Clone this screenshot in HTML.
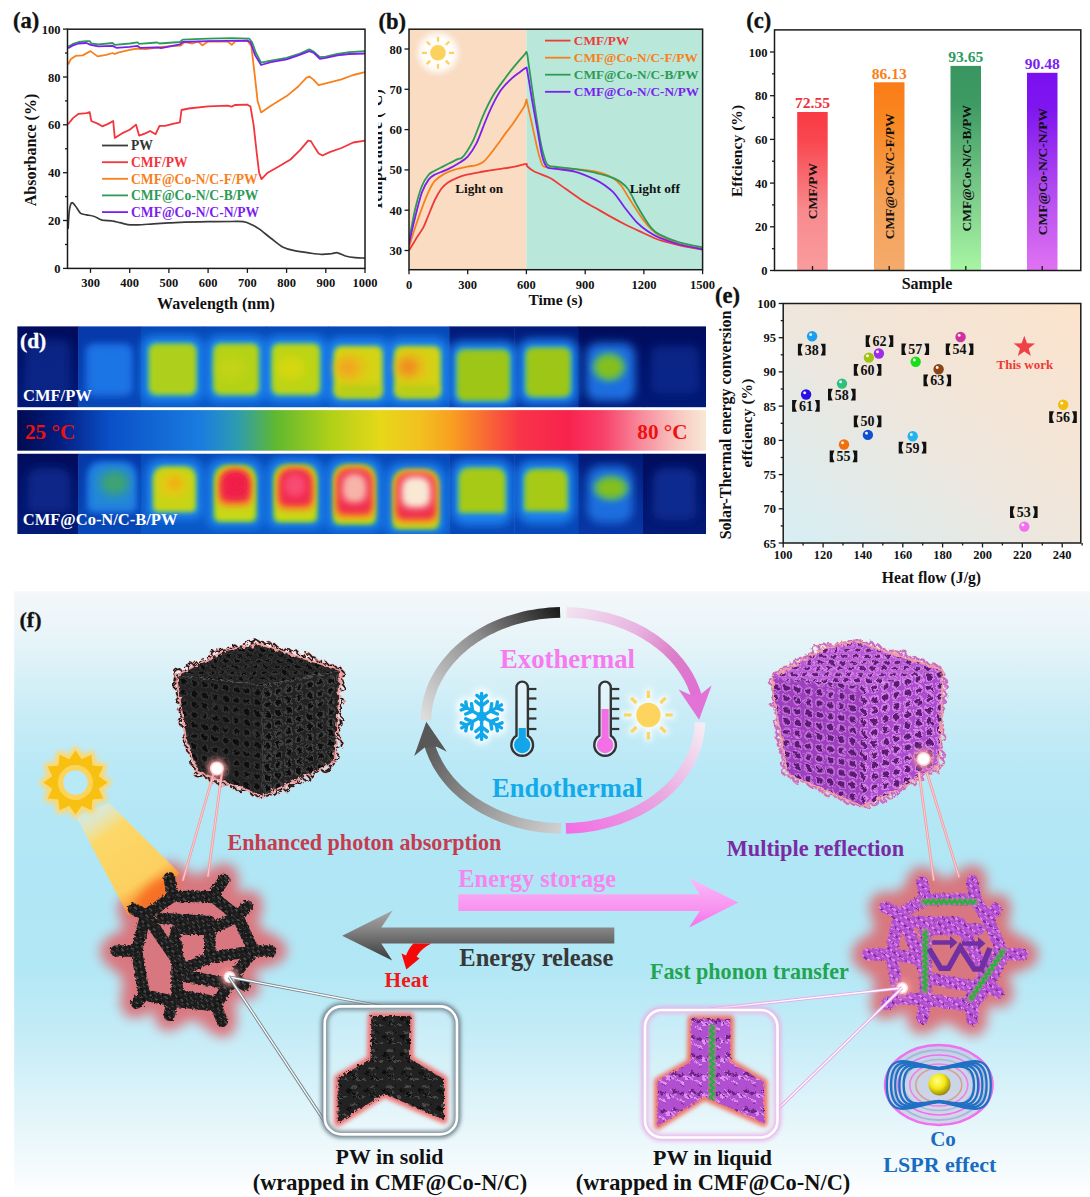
<!DOCTYPE html>
<html><head><meta charset="utf-8"><style>html,body{margin:0;padding:0;background:#fff;width:1090px;height:1197px;overflow:hidden}svg{display:block;font-family:"Liberation Serif",serif}</style></head>
<body><svg width="1090" height="1197" viewBox="0 0 1090 1197" font-family="Liberation Serif" font-weight="bold"><g id="panel_a"><path d="M68.1,228.9 C68.3,225.9 68.7,215.3 69.3,211 C69.9,206.6 70.6,203.6 71.7,202.8 C72.7,202 74.1,204.4 75.6,206.2 C77.1,207.9 78.9,211.9 80.7,213.4 C82.5,214.8 84.3,214.3 86.6,214.8 C88.9,215.3 91.8,215.6 94.4,216.5 C97,217.3 99.3,219.3 102.3,220.1 C105.2,220.8 109.1,220.3 112.1,220.8 C115,221.2 117.3,222.1 119.9,222.7 C122.5,223.3 124.8,224.2 127.8,224.6 C130.7,225 133.3,225 137.6,224.8 C141.8,224.7 148,224.2 153.2,223.9 C158.5,223.6 163.7,223.2 168.9,222.9 C174.2,222.7 178.1,222.4 184.6,222.2 C191.1,222 200.3,221.9 208.1,221.7 C216,221.6 225.8,221.5 231.7,221.5 C237.6,221.5 240.2,221.3 243.4,221.7 C246.7,222.2 248.7,223.2 251.3,224.4 C253.9,225.6 255.9,226.6 259.1,228.9 C262.4,231.2 267,235.3 270.9,238.2 C274.8,241.2 278.7,244.8 282.6,246.9 C286.6,248.9 289.8,249.7 294.4,250.7 C299,251.7 305.5,252.5 310.1,253.1 C314.7,253.7 318.3,254.2 321.9,254.3 C325.5,254.4 329.1,253.8 331.7,253.6 C334.3,253.3 335.3,252.4 337.5,252.8 C339.8,253.2 342.4,255.2 345.4,256 C348.3,256.8 351.9,257.3 355.2,257.6 C358.5,258 363.4,258 365,258.1" fill="none" stroke="#3a3a3a" stroke-width="1.7" stroke-linejoin="round"/>
<path d="M68.1,124.3 L72.9,118.1 L78.7,113.8 L86.6,113.1 L89.7,112.1 L91.3,121 L97.6,123.6 L102.3,126.3 L108.1,123.9 L113.2,121 L114.8,138 L121.9,133.4 L129.7,129.8 L136,124.6 L139.1,135.6 L145.4,133.4 L150.1,131 L155.6,134.2 L159.5,125.8 L165,125.8 L172.8,123.9 L179.9,122.4 L181.5,110 L188.5,108.5 L208.1,106.4 L227.7,105.7 L231.7,106.6 L234.8,105 L247.4,104.7 L250.5,106.6 L253.6,124.8 L256.8,153.5 L259.1,172.7 L261.5,179.1 L267.7,172.7 L278.7,166.5 L290.5,159.5 L300.3,149.9 L308.1,140.6 L310.9,141.1 L314.8,147.6 L318.7,153.5 L322.6,155.5 L329.7,152.1 L341.5,148 L353.2,142.5 L365,140.6" fill="none" stroke="#f4343c" stroke-width="1.8" stroke-linejoin="round"/>
<path d="M68.1,64.5 L70.9,59 L75.6,55.9 L82.7,55.4 L90.5,51.1 L97.6,56.4 L106.2,54.9 L112.5,53 L114.8,54 L117.9,52.6 L129.7,49.9 L137.6,48.5 L145.4,49.2 L157.2,47.5 L161.1,46.8 L168.9,46.3 L180.7,45.6 L184.6,42 L192.5,43.5 L198.3,41.5 L202.3,45.4 L208.1,41.5 L227.7,41.5 L231.7,44.9 L235.6,41.1 L247.4,40.6 L251.3,45.9 L254.4,72.2 L257.6,100.9 L261.1,112.4 L270.9,105.7 L286.6,96.1 L298.3,86.5 L306.2,77.9 L309.3,76.5 L313.2,79.4 L318.7,85.1 L325.8,83.4 L341.5,79.4 L353.2,75 L365,72.2" fill="none" stroke="#f7801c" stroke-width="1.8" stroke-linejoin="round"/>
<path d="M68.1,46.8 L72.9,43.9 L78.7,42 L86.6,41.1 L89.7,41.1 L91.3,43.5 L98.3,44.4 L108.1,43.5 L112.5,43 L114.8,44.9 L129.7,43.5 L137.6,42.3 L139.1,43.9 L157.2,42.5 L159.5,43.5 L179.9,42 L182.7,39.6 L208.1,38.7 L231.7,38.2 L249.3,38.7 L252.1,42.3 L256,53 L261.1,62.6 L270.9,60.7 L286.6,57.8 L298.3,54.2 L309.3,49.4 L314,51.8 L319.9,57.1 L325.8,56.6 L337.5,54 L349.3,52.1 L365,51.1" fill="none" stroke="#2e9a58" stroke-width="1.8" stroke-linejoin="round"/>
<path d="M68.1,48.2 L72.9,45.4 L78.7,43.5 L86.6,43 L90.5,44.9 L98.3,46.3 L112.5,45.9 L116.4,47.8 L129.7,46.8 L137.6,45.9 L139.9,47.8 L157.2,47.3 L161.1,48.2 L179.9,44.4 L182.7,42 L208.1,41.1 L247.4,40.6 L250.5,42.3 L255.2,55.4 L261.1,65 L270.9,62.1 L286.6,59.3 L298.3,55.4 L309.3,51.1 L314,53 L319.9,58.8 L325.8,57.8 L337.5,55.4 L349.3,54 L365,53.5" fill="none" stroke="#7b1ff0" stroke-width="1.8" stroke-linejoin="round"/>
<rect x="67.5" y="29.2" width="297.5" height="239.2" fill="none" stroke="#1a1a1a" stroke-width="1.5"/>
<line x1="63" y1="268.4" x2="67.5" y2="268.4" stroke="#1a1a1a" stroke-width="1.3"/>
<text x="60.5" y="272.9" font-size="12.5" fill="#111" text-anchor="end" >0</text>
<line x1="65" y1="244.5" x2="67.5" y2="244.5" stroke="#1a1a1a" stroke-width="1.3"/>
<line x1="63" y1="220.5" x2="67.5" y2="220.5" stroke="#1a1a1a" stroke-width="1.3"/>
<text x="60.5" y="225" font-size="12.5" fill="#111" text-anchor="end" >20</text>
<line x1="65" y1="196.6" x2="67.5" y2="196.6" stroke="#1a1a1a" stroke-width="1.3"/>
<line x1="63" y1="172.7" x2="67.5" y2="172.7" stroke="#1a1a1a" stroke-width="1.3"/>
<text x="60.5" y="177.2" font-size="12.5" fill="#111" text-anchor="end" >40</text>
<line x1="65" y1="148.8" x2="67.5" y2="148.8" stroke="#1a1a1a" stroke-width="1.3"/>
<line x1="63" y1="124.8" x2="67.5" y2="124.8" stroke="#1a1a1a" stroke-width="1.3"/>
<text x="60.5" y="129.3" font-size="12.5" fill="#111" text-anchor="end" >60</text>
<line x1="65" y1="100.9" x2="67.5" y2="100.9" stroke="#1a1a1a" stroke-width="1.3"/>
<line x1="63" y1="77" x2="67.5" y2="77" stroke="#1a1a1a" stroke-width="1.3"/>
<text x="60.5" y="81.5" font-size="12.5" fill="#111" text-anchor="end" >80</text>
<line x1="65" y1="53" x2="67.5" y2="53" stroke="#1a1a1a" stroke-width="1.3"/>
<line x1="63" y1="29.1" x2="67.5" y2="29.1" stroke="#1a1a1a" stroke-width="1.3"/>
<text x="60.5" y="33.6" font-size="12.5" fill="#111" text-anchor="end" >100</text>
<line x1="90.5" y1="268.4" x2="90.5" y2="272.9" stroke="#1a1a1a" stroke-width="1.3"/>
<text x="90.5" y="287" font-size="12.5" fill="#111" text-anchor="middle" >300</text>
<line x1="129.7" y1="268.4" x2="129.7" y2="272.9" stroke="#1a1a1a" stroke-width="1.3"/>
<text x="129.7" y="287" font-size="12.5" fill="#111" text-anchor="middle" >400</text>
<line x1="168.9" y1="268.4" x2="168.9" y2="272.9" stroke="#1a1a1a" stroke-width="1.3"/>
<text x="168.9" y="287" font-size="12.5" fill="#111" text-anchor="middle" >500</text>
<line x1="208.1" y1="268.4" x2="208.1" y2="272.9" stroke="#1a1a1a" stroke-width="1.3"/>
<text x="208.1" y="287" font-size="12.5" fill="#111" text-anchor="middle" >600</text>
<line x1="247.4" y1="268.4" x2="247.4" y2="272.9" stroke="#1a1a1a" stroke-width="1.3"/>
<text x="247.4" y="287" font-size="12.5" fill="#111" text-anchor="middle" >700</text>
<line x1="286.6" y1="268.4" x2="286.6" y2="272.9" stroke="#1a1a1a" stroke-width="1.3"/>
<text x="286.6" y="287" font-size="12.5" fill="#111" text-anchor="middle" >800</text>
<line x1="325.8" y1="268.4" x2="325.8" y2="272.9" stroke="#1a1a1a" stroke-width="1.3"/>
<text x="325.8" y="287" font-size="12.5" fill="#111" text-anchor="middle" >900</text>
<line x1="365" y1="268.4" x2="365" y2="272.9" stroke="#1a1a1a" stroke-width="1.3"/>
<text x="365" y="287" font-size="12.5" fill="#111" text-anchor="middle" >1000</text>
<text x="216" y="308.5" font-size="16" fill="#111" text-anchor="middle" >Wavelength (nm)</text>
<text x="0" y="0" font-size="16" fill="#111" text-anchor="middle" transform="translate(35.5,150) rotate(-90)">Absorbance (%)</text>
<text x="13" y="28.3" font-size="22.5" fill="#111" text-anchor="start" stroke="#111" stroke-width="0.35">(a)</text>
<line x1="102" y1="145.5" x2="128" y2="145.5" stroke="#3a3a3a" stroke-width="1.8"/>
<text x="131" y="150.2" font-size="13.6" fill="#333" text-anchor="start" >PW</text>
<line x1="102" y1="162.2" x2="128" y2="162.2" stroke="#f4343c" stroke-width="1.8"/>
<text x="131" y="166.8" font-size="13.6" fill="#f4343c" text-anchor="start" >CMF/PW</text>
<line x1="102" y1="178.8" x2="128" y2="178.8" stroke="#f7801c" stroke-width="1.8"/>
<text x="131" y="183.5" font-size="13.6" fill="#f7801c" text-anchor="start" >CMF@Co-N/C-F/PW</text>
<line x1="102" y1="195.4" x2="128" y2="195.4" stroke="#2e9a58" stroke-width="1.8"/>
<text x="131" y="200.1" font-size="13.6" fill="#2e9a58" text-anchor="start" >CMF@Co-N/C-B/PW</text>
<line x1="102" y1="212.1" x2="128" y2="212.1" stroke="#7b1ff0" stroke-width="1.8"/>
<text x="131" y="216.8" font-size="13.6" fill="#7b1ff0" text-anchor="start" >CMF@Co-N/C-N/PW</text></g>
<g id="panel_b"><defs><filter id="glowb" x="-50%" y="-50%" width="200%" height="200%"><feGaussianBlur stdDeviation="3"/></filter><clipPath id="clipb"><rect x="409.0" y="29.2" width="293.6" height="240.5"/></clipPath></defs>
<rect x="409.0" y="29.2" width="117.43799999999999" height="240.5" fill="#f9dcc1"/>
<rect x="526.4" y="29.2" width="176.2" height="240.5" fill="#b9e8da"/>
<g clip-path="url(#clipb)">
<circle cx="438" cy="52.8" r="20" fill="#fff" filter="url(#glowb)" opacity="0.95"/><circle cx="438" cy="52.8" r="7.8" fill="#fbd35c"/><line x1="449" y1="52.8" x2="454" y2="52.8" stroke="#fbd35c" stroke-width="2.2"/><line x1="445.8" y1="60.6" x2="449.3" y2="64.1" stroke="#fbd35c" stroke-width="2.2"/><line x1="438" y1="63.8" x2="438" y2="68.8" stroke="#fbd35c" stroke-width="2.2"/><line x1="430.2" y1="60.6" x2="426.7" y2="64.1" stroke="#fbd35c" stroke-width="2.2"/><line x1="427" y1="52.8" x2="422" y2="52.8" stroke="#fbd35c" stroke-width="2.2"/><line x1="430.2" y1="45" x2="426.7" y2="41.5" stroke="#fbd35c" stroke-width="2.2"/><line x1="438" y1="41.8" x2="438" y2="36.8" stroke="#fbd35c" stroke-width="2.2"/><line x1="445.8" y1="45" x2="449.3" y2="41.5" stroke="#fbd35c" stroke-width="2.2"/>
<path d="M409,250.5 C409.6,249.5 411.6,246.2 412.9,244.1 C414.2,241.9 416.2,238.5 417.8,236 C419.4,233.5 421.9,230.3 423.5,227.1 C425.1,224 426.9,219 428.6,215 C430.2,211 432.7,204.5 434.6,200.5 C436.5,196.6 439.4,191.5 441.3,188.8 C443.2,186.2 445.4,184.4 447.6,182.8 C449.8,181.2 453.1,179.6 456,178.4 C458.9,177.2 462.6,175.8 466.7,174.7 C470.9,173.7 478.6,172.4 483.4,171.5 C488.2,170.7 494.1,169.8 498.8,169.1 C503.5,168.4 510.6,167.5 514.7,166.7 C518.8,165.9 524.2,163.9 526,163.9 C527.9,163.8 526,165.1 527.2,166.3 C528.5,167.4 530.8,169.8 534.3,171.5 C537.7,173.3 545.4,175.4 550.1,178 C554.8,180.6 560.9,185.6 565.6,188.8 C570.3,192.1 576.8,196.9 581.2,199.7 C585.7,202.6 590.7,205.2 595.1,207.8 C599.5,210.3 605.8,214 610.6,216.6 C615.4,219.3 622.2,223 627.2,225.5 C632.2,228 639.1,231 643.9,233.2 C648.7,235.3 653.5,238.1 659.3,240 C665.2,242 676.5,244.6 683,246.1 C689.5,247.5 699.7,249.1 702.6,249.7" fill="none" stroke="#ef3a3a" stroke-width="1.8" stroke-linejoin="round"/>
<path d="M409,247.3 C409.9,244.4 412.9,234.2 414.9,228.3 C416.8,222.5 419.9,213.7 421.9,208.2 C424,202.7 426.7,195.7 428.6,191.7 C430.5,187.6 432.3,183.8 434.6,181.2 C437,178.5 441.3,175.6 444.2,173.9 C447.1,172.2 450.5,171 454,169.9 C457.5,168.8 464.4,167.4 467.7,166.7 C471.1,166 474,165.8 476.3,165.1 C478.7,164.3 481.1,163.7 483.4,161.8 C485.6,160 488.9,155.9 491.2,153 C493.6,150.1 496.9,145.4 499,142.5 C501.1,139.6 503.2,136.4 505.3,133.6 C507.4,130.8 510.4,127.2 512.7,124 C515,120.8 518.8,114.9 520.6,112.3 C522.3,109.6 523.6,108.1 524.5,106.2 C525.4,104.4 526,100.3 526.4,99.8 C526.8,99.3 526.3,99.1 527.2,103 C528.1,106.9 530.8,118.7 532.3,125.6 C533.8,132.5 536.1,143.5 537.4,148.9 C538.7,154.4 540.1,159.2 541.1,161.8 C542.1,164.5 541.6,165.6 544.1,166.7 C546.5,167.7 553,168.3 557.8,168.7 C562.5,169.1 570,168.7 575.6,169.1 C581.2,169.5 589.9,170.4 595.1,171.5 C600.4,172.7 606.8,174.7 610.6,176.8 C614.4,178.8 617.8,181.7 620.8,185.2 C623.7,188.7 626.8,194.9 630.2,200.1 C633.6,205.3 640.1,215.5 643.3,219.9 C646.5,224.3 649.3,227.2 651.7,229.5 C654.1,231.8 655.2,233 659.3,235.2 C663.4,237.4 672.6,242 679.1,244.1 C685.6,246.1 699.1,248.2 702.6,248.9" fill="none" stroke="#f7801c" stroke-width="1.8" stroke-linejoin="round"/>
<path d="M409,241.2 C409.9,236.6 412.9,218.5 414.9,210.2 C416.8,201.9 419.9,191.3 421.9,186 C424,180.7 426.7,177 428.6,174.7 C430.5,172.4 432.3,172 434.6,170.7 C437,169.4 440.9,167.6 444.2,165.9 C447.6,164.2 454.5,160.6 457.1,159.4 C459.8,158.2 460.4,159 461.8,157.8 C463.3,156.7 465,154.5 466.7,151.8 C468.5,149 471.2,145 473.6,139.7 C476,134.4 479.9,123 482.8,116.3 C485.7,109.7 489.8,101.1 493.2,95.3 C496.5,89.6 502.1,82.4 505.3,78 C508.5,73.6 511.8,69.4 514.7,65.9 C517.6,62.4 522.7,56.6 524.5,54.6 C526.3,52.6 526.2,51.1 526.8,52.6 C527.5,54.2 527.7,57.5 528.8,65.1 C529.9,72.7 532.6,92.2 534.3,103.4 C536,114.6 538.7,131.8 540.1,139.7 C541.6,147.5 542.7,152 543.9,155.8 C545,159.6 545.9,163.4 548,165.1 C550.1,166.8 553.6,166.5 557.8,167.1 C561.9,167.7 570,168.2 575.6,169.1 C581.2,169.9 589.3,171.3 595.1,172.7 C601,174.1 609.5,176.1 614.3,178.4 C619.1,180.7 624,184.2 627.2,188 C630.5,191.8 633.6,199.5 636,203.8 C638.5,208 640.9,212.6 643.3,216.2 C645.6,219.9 649.3,225.6 651.7,228.3 C654.1,231.1 655.2,232.3 659.3,234.4 C663.4,236.5 672.6,240.5 679.1,242.4 C685.6,244.4 699.1,246.6 702.6,247.3" fill="none" stroke="#2e9a58" stroke-width="1.8" stroke-linejoin="round"/>
<path d="M409,244.1 C409.9,240.2 412.9,226 414.9,218.3 C416.8,210.5 419.9,198.3 421.9,192.5 C424,186.7 426.7,182.2 428.6,179.6 C430.5,176.9 431.7,176.3 434.6,174.7 C437.6,173.2 444.3,171 448.1,169.1 C452,167.2 457.3,164.1 460.3,162.2 C463.2,160.4 465.3,159.4 467.7,156.6 C470.1,153.8 473.7,149 476.3,143.7 C479,138.4 482.9,127.3 485.3,121.5 C487.7,115.8 490,110.1 492.4,105.4 C494.7,100.7 498.1,94.2 501,90.1 C503.9,86.1 508.8,81.2 511.8,78.4 C514.7,75.6 518.4,73.1 520.6,71.6 C522.7,70 525,68.1 526,67.9 C527,67.8 526.3,65.7 527.2,70.8 C528.2,75.8 530.8,92.6 532.3,101.4 C533.8,110.2 535.9,121.4 537.4,129.6 C538.9,137.8 540.7,150.2 542.1,155.8 C543.5,161.4 544.6,165.1 547,167.1 C549.3,169.1 553.5,168.4 557.8,169.1 C562,169.8 570,170.3 575.6,171.9 C581.2,173.5 590.8,177.6 595.1,179.6 C599.5,181.6 601.9,183.2 604.7,185.2 C607.6,187.3 611.4,190 614.3,193.3 C617.3,196.5 620.9,202.6 624.3,207 C627.7,211.3 633.3,218.7 636.8,222.3 C640.4,225.9 644.4,228.9 647.8,231.2 C651.2,233.5 654.6,235.6 659.3,237.6 C664,239.6 672.6,242.7 679.1,244.5 C685.6,246.2 699.1,248.6 702.6,249.3" fill="none" stroke="#7b1ff0" stroke-width="1.8" stroke-linejoin="round"/>
</g>
<rect x="409.0" y="29.2" width="293.6" height="240.5" fill="none" stroke="#1a1a1a" stroke-width="1.5"/>
<line x1="404.5" y1="250.5" x2="409.0" y2="250.5" stroke="#1a1a1a" stroke-width="1.3"/>
<text x="402" y="255" font-size="12.5" fill="#111" text-anchor="end" >30</text>
<line x1="404.5" y1="210.2" x2="409.0" y2="210.2" stroke="#1a1a1a" stroke-width="1.3"/>
<text x="402" y="214.7" font-size="12.5" fill="#111" text-anchor="end" >40</text>
<line x1="404.5" y1="169.9" x2="409.0" y2="169.9" stroke="#1a1a1a" stroke-width="1.3"/>
<text x="402" y="174.4" font-size="12.5" fill="#111" text-anchor="end" >50</text>
<line x1="404.5" y1="129.6" x2="409.0" y2="129.6" stroke="#1a1a1a" stroke-width="1.3"/>
<text x="402" y="134.1" font-size="12.5" fill="#111" text-anchor="end" >60</text>
<line x1="404.5" y1="89.3" x2="409.0" y2="89.3" stroke="#1a1a1a" stroke-width="1.3"/>
<text x="402" y="93.8" font-size="12.5" fill="#111" text-anchor="end" >70</text>
<line x1="404.5" y1="49" x2="409.0" y2="49" stroke="#1a1a1a" stroke-width="1.3"/>
<text x="402" y="53.5" font-size="12.5" fill="#111" text-anchor="end" >80</text>
<line x1="409" y1="269.7" x2="409" y2="274.2" stroke="#1a1a1a" stroke-width="1.3"/>
<text x="409" y="288.5" font-size="12.5" fill="#111" text-anchor="middle" >0</text>
<line x1="467.7" y1="269.7" x2="467.7" y2="274.2" stroke="#1a1a1a" stroke-width="1.3"/>
<text x="467.7" y="288.5" font-size="12.5" fill="#111" text-anchor="middle" >300</text>
<line x1="526.4" y1="269.7" x2="526.4" y2="274.2" stroke="#1a1a1a" stroke-width="1.3"/>
<text x="526.4" y="288.5" font-size="12.5" fill="#111" text-anchor="middle" >600</text>
<line x1="585.2" y1="269.7" x2="585.2" y2="274.2" stroke="#1a1a1a" stroke-width="1.3"/>
<text x="585.2" y="288.5" font-size="12.5" fill="#111" text-anchor="middle" >900</text>
<line x1="643.9" y1="269.7" x2="643.9" y2="274.2" stroke="#1a1a1a" stroke-width="1.3"/>
<text x="643.9" y="288.5" font-size="12.5" fill="#111" text-anchor="middle" >1200</text>
<line x1="702.6" y1="269.7" x2="702.6" y2="274.2" stroke="#1a1a1a" stroke-width="1.3"/>
<text x="702.6" y="288.5" font-size="12.5" fill="#111" text-anchor="middle" >1500</text>
<text x="555.6" y="305" font-size="15.5" fill="#111" text-anchor="middle" >Time (s)</text>
<text x="479.2" y="192.7" font-size="13.2" fill="#111" text-anchor="middle" >Light on</text>
<text x="654.8" y="192.7" font-size="13.4" fill="#111" text-anchor="middle" >Light off</text>
<defs><clipPath id="clipbl"><rect x="378" y="0" width="30" height="300"/></clipPath></defs>
<g clip-path="url(#clipbl)"><text x="0" y="0" font-size="16" fill="#111" text-anchor="middle" transform="translate(381.5,150) rotate(-90)">Temperature (°C)</text></g>
<text x="378.5" y="28.6" font-size="22.5" fill="#111" text-anchor="start" stroke="#111" stroke-width="0.35">(b)</text>
<line x1="545" y1="40.6" x2="570.5" y2="40.6" stroke="#ef3a3a" stroke-width="1.8"/>
<text x="573.8" y="45.2" font-size="13.3" fill="#ef3a3a" text-anchor="start" >CMF/PW</text>
<line x1="545" y1="57.7" x2="570.5" y2="57.7" stroke="#f7801c" stroke-width="1.8"/>
<text x="573.8" y="62.3" font-size="13.3" fill="#f7801c" text-anchor="start" >CMF@Co-N/C-F/PW</text>
<line x1="545" y1="74.7" x2="570.5" y2="74.7" stroke="#2e9a58" stroke-width="1.8"/>
<text x="573.8" y="79.3" font-size="13.3" fill="#2e9a58" text-anchor="start" >CMF@Co-N/C-B/PW</text>
<line x1="545" y1="91.8" x2="570.5" y2="91.8" stroke="#7b1ff0" stroke-width="1.8"/>
<text x="573.8" y="96.4" font-size="13.3" fill="#7b1ff0" text-anchor="start" >CMF@Co-N/C-N/PW</text></g>
<g id="panel_c"><defs><linearGradient id="gbar0" x1="0" y1="0" x2="0" y2="1"><stop offset="0" stop-color="#f93a44"/><stop offset="0.18" stop-color="#f9474f"/><stop offset="0.62" stop-color="#f78a8e"/><stop offset="1" stop-color="#fa9c9c"/></linearGradient><linearGradient id="gbar1" x1="0" y1="0" x2="0" y2="1"><stop offset="0" stop-color="#fb7b17"/><stop offset="0.18" stop-color="#f9861f"/><stop offset="0.62" stop-color="#f5a055"/><stop offset="1" stop-color="#f4ab6c"/></linearGradient><linearGradient id="gbar2" x1="0" y1="0" x2="0" y2="1"><stop offset="0" stop-color="#3a9660"/><stop offset="0.18" stop-color="#3d9a62"/><stop offset="0.62" stop-color="#7acb88"/><stop offset="1" stop-color="#a8f6a4"/></linearGradient><linearGradient id="gbar3" x1="0" y1="0" x2="0" y2="1"><stop offset="0" stop-color="#7a10f0"/><stop offset="0.18" stop-color="#7f16f0"/><stop offset="0.62" stop-color="#b54ef0"/><stop offset="1" stop-color="#e072f2"/></linearGradient></defs>
<rect x="797.2" y="112" width="30.5" height="158.5" fill="url(#gbar0)"/>
<text x="812.5" y="108.4" font-size="15.6" fill="#f0303c" text-anchor="middle" >72.55</text>
<text x="0" y="0" font-size="13.5" fill="#111" text-anchor="middle" transform="translate(817.3,191.2) rotate(-90)">CMF/PW</text>
<line x1="812.5" y1="270.5" x2="812.5" y2="266" stroke="#1a1a1a" stroke-width="1.3"/>
<rect x="874" y="82.3" width="30.5" height="188.2" fill="url(#gbar1)"/>
<text x="889.2" y="78.7" font-size="15.6" fill="#f7801c" text-anchor="middle" >86.13</text>
<text x="0" y="0" font-size="13.5" fill="#111" text-anchor="middle" transform="translate(894,176.4) rotate(-90)">CMF@Co-N/C-F/PW</text>
<line x1="889.2" y1="270.5" x2="889.2" y2="266" stroke="#1a1a1a" stroke-width="1.3"/>
<rect x="950.5" y="65.9" width="30.5" height="204.6" fill="url(#gbar2)"/>
<text x="965.8" y="62.3" font-size="15.6" fill="#2e9a5e" text-anchor="middle" >93.65</text>
<text x="0" y="0" font-size="13.5" fill="#111" text-anchor="middle" transform="translate(970.6,168.2) rotate(-90)">CMF@Co-N/C-B/PW</text>
<line x1="965.8" y1="270.5" x2="965.8" y2="266" stroke="#1a1a1a" stroke-width="1.3"/>
<rect x="1027" y="72.8" width="30.5" height="197.7" fill="url(#gbar3)"/>
<text x="1042.2" y="69.2" font-size="15.6" fill="#7b1ff0" text-anchor="middle" >90.48</text>
<text x="0" y="0" font-size="13.5" fill="#111" text-anchor="middle" transform="translate(1047,171.7) rotate(-90)">CMF@Co-N/C-N/PW</text>
<line x1="1042.2" y1="270.5" x2="1042.2" y2="266" stroke="#1a1a1a" stroke-width="1.3"/>
<rect x="774.5" y="29.9" width="306.3" height="240.6" fill="none" stroke="#1a1a1a" stroke-width="1.5"/>
<line x1="770" y1="270.5" x2="774.5" y2="270.5" stroke="#1a1a1a" stroke-width="1.3"/>
<text x="767.5" y="275" font-size="12.5" fill="#111" text-anchor="end" >0</text>
<line x1="772" y1="248.7" x2="774.5" y2="248.7" stroke="#1a1a1a" stroke-width="1.3"/>
<line x1="770" y1="226.8" x2="774.5" y2="226.8" stroke="#1a1a1a" stroke-width="1.3"/>
<text x="767.5" y="231.3" font-size="12.5" fill="#111" text-anchor="end" >20</text>
<line x1="772" y1="204.9" x2="774.5" y2="204.9" stroke="#1a1a1a" stroke-width="1.3"/>
<line x1="770" y1="183.1" x2="774.5" y2="183.1" stroke="#1a1a1a" stroke-width="1.3"/>
<text x="767.5" y="187.6" font-size="12.5" fill="#111" text-anchor="end" >40</text>
<line x1="772" y1="161.2" x2="774.5" y2="161.2" stroke="#1a1a1a" stroke-width="1.3"/>
<line x1="770" y1="139.4" x2="774.5" y2="139.4" stroke="#1a1a1a" stroke-width="1.3"/>
<text x="767.5" y="143.9" font-size="12.5" fill="#111" text-anchor="end" >60</text>
<line x1="772" y1="117.5" x2="774.5" y2="117.5" stroke="#1a1a1a" stroke-width="1.3"/>
<line x1="770" y1="95.7" x2="774.5" y2="95.7" stroke="#1a1a1a" stroke-width="1.3"/>
<text x="767.5" y="100.2" font-size="12.5" fill="#111" text-anchor="end" >80</text>
<line x1="772" y1="73.8" x2="774.5" y2="73.8" stroke="#1a1a1a" stroke-width="1.3"/>
<line x1="770" y1="52" x2="774.5" y2="52" stroke="#1a1a1a" stroke-width="1.3"/>
<text x="767.5" y="56.5" font-size="12.5" fill="#111" text-anchor="end" >100</text>
<text x="927" y="289.4" font-size="16" fill="#111" text-anchor="middle" >Sample</text>
<text x="0" y="0" font-size="15.6" fill="#111" text-anchor="middle" transform="translate(741.5,151) rotate(-90)">Effciency (%)</text>
<text x="746.3" y="28" font-size="22.5" fill="#111" text-anchor="start" stroke="#111" stroke-width="0.35">(c)</text></g>
<g id="panel_d"><defs><filter id="bl1" x="-60%" y="-60%" width="220%" height="220%"><feGaussianBlur stdDeviation="1.2"/></filter><filter id="bl2" x="-60%" y="-60%" width="220%" height="220%"><feGaussianBlur stdDeviation="2.2"/></filter><filter id="bl3" x="-60%" y="-60%" width="220%" height="220%"><feGaussianBlur stdDeviation="3.2"/></filter><filter id="bl5" x="-60%" y="-60%" width="220%" height="220%"><feGaussianBlur stdDeviation="5"/></filter><filter id="bl7" x="-60%" y="-60%" width="220%" height="220%"><feGaussianBlur stdDeviation="7"/></filter><linearGradient id="cbar" x1="0" y1="0" x2="1" y2="0"><stop offset="0" stop-color="#000a50"/><stop offset="0.062" stop-color="#031e80"/><stop offset="0.135" stop-color="#0a50c8"/><stop offset="0.266" stop-color="#1a7ce0"/><stop offset="0.32" stop-color="#2e9cb0"/><stop offset="0.375" stop-color="#60b830"/><stop offset="0.455" stop-color="#b0d018"/><stop offset="0.527" stop-color="#e6d818"/><stop offset="0.585" stop-color="#f2c020"/><stop offset="0.63" stop-color="#f8a020"/><stop offset="0.68" stop-color="#f86a34"/><stop offset="0.73" stop-color="#f83448"/><stop offset="0.8" stop-color="#f8224e"/><stop offset="0.85" stop-color="#f84068"/><stop offset="0.91" stop-color="#f890a0"/><stop offset="0.96" stop-color="#f8c8c0"/><stop offset="1" stop-color="#f8e8d6"/></linearGradient><linearGradient id="cbg0" x1="0" y1="0" x2="0" y2="1"><stop offset="0" stop-color="#02186e"/><stop offset="1" stop-color="#062a90"/></linearGradient><linearGradient id="cbg1" x1="0" y1="0" x2="0" y2="1"><stop offset="0" stop-color="#0638a8"/><stop offset="1" stop-color="#0848b8"/></linearGradient><linearGradient id="cbg2" x1="0" y1="0" x2="0" y2="1"><stop offset="0" stop-color="#0848b8"/><stop offset="1" stop-color="#0a58c8"/></linearGradient><linearGradient id="cbg3" x1="0" y1="0" x2="0" y2="1"><stop offset="0" stop-color="#021a78"/><stop offset="1" stop-color="#0838a8"/></linearGradient><linearGradient id="cbg4" x1="0" y1="0" x2="0" y2="1"><stop offset="0" stop-color="#010c5c"/><stop offset="1" stop-color="#021a78"/></linearGradient><clipPath id="clipd1"><rect x="17.2" y="326.2" width="688.8" height="81.2"/></clipPath><clipPath id="clipd2"><rect x="17.2" y="453.5" width="688.8" height="80.5"/></clipPath></defs>
<rect x="17.2" y="326.2" width="688.8" height="207.8" fill="#ffffff"/>
<rect x="17.2" y="410.1" width="688.8" height="40.6" fill="url(#cbar)"/>
<g clip-path="url(#clipd1)">
<rect x="17.2" y="326.2" width="61.5" height="81.2" fill="url(#cbg4)"/>
<rect x="78.2" y="326.2" width="63.1" height="81.2" fill="url(#cbg1)"/>
<rect x="140.8" y="326.2" width="64.4" height="81.2" fill="url(#cbg2)"/>
<rect x="204.7" y="326.2" width="61.8" height="81.2" fill="url(#cbg2)"/>
<rect x="266" y="326.2" width="62.5" height="81.2" fill="url(#cbg2)"/>
<rect x="328" y="326.2" width="62.2" height="81.2" fill="url(#cbg2)"/>
<rect x="389.7" y="326.2" width="60.1" height="81.2" fill="url(#cbg2)"/>
<rect x="449.3" y="326.2" width="65.4" height="81.2" fill="url(#cbg3)"/>
<rect x="514.2" y="326.2" width="64.9" height="81.2" fill="url(#cbg3)"/>
<rect x="578.6" y="326.2" width="64.9" height="81.2" fill="url(#cbg4)"/>
<rect x="643" y="326.2" width="63.5" height="81.2" fill="url(#cbg4)"/>
</g>
<g clip-path="url(#clipd2)">
<rect x="17.2" y="453.5" width="61.5" height="80.5" fill="url(#cbg4)"/>
<rect x="78.2" y="453.5" width="63.1" height="80.5" fill="url(#cbg1)"/>
<rect x="140.8" y="453.5" width="64.4" height="80.5" fill="url(#cbg2)"/>
<rect x="204.7" y="453.5" width="61.8" height="80.5" fill="url(#cbg2)"/>
<rect x="266" y="453.5" width="62.5" height="80.5" fill="url(#cbg2)"/>
<rect x="328" y="453.5" width="62.2" height="80.5" fill="url(#cbg2)"/>
<rect x="389.7" y="453.5" width="60.1" height="80.5" fill="url(#cbg2)"/>
<rect x="449.3" y="453.5" width="65.4" height="80.5" fill="url(#cbg1)"/>
<rect x="514.2" y="453.5" width="64.9" height="80.5" fill="url(#cbg1)"/>
<rect x="578.6" y="453.5" width="64.9" height="80.5" fill="url(#cbg3)"/>
<rect x="643" y="453.5" width="63.5" height="80.5" fill="url(#cbg4)"/>
</g>
<g clip-path="url(#clipd1)">
<rect x="25" y="340" width="45" height="60" rx="8" ry="8" fill="#0a2a8c" filter="url(#bl5)" opacity="0.8"/>
<rect x="85" y="343" width="48" height="54" rx="8" ry="8" fill="#1660d8" filter="url(#bl3)" />
<rect x="89" y="347" width="41" height="46" rx="6" ry="6" fill="#1e74e4" filter="url(#bl3)" />
<rect x="141.7" y="336" width="61.9" height="66" rx="12" ry="12" fill="#1a82f0" filter="url(#bl5)" />
<rect x="147.7" y="342.5" width="49.9" height="53.5" rx="8" ry="8" fill="#40b0a0" filter="url(#bl2)" />
<rect x="149.7" y="344.5" width="45.9" height="49.5" rx="7" ry="7" fill="#aed01a" filter="url(#bl2)" />
<rect x="206.2" y="336" width="60.2" height="66" rx="12" ry="12" fill="#1a82f0" filter="url(#bl5)" />
<rect x="212.2" y="342.5" width="48.2" height="53.5" rx="8" ry="8" fill="#40b0a0" filter="url(#bl2)" />
<rect x="214.2" y="344.5" width="44.2" height="49.5" rx="7" ry="7" fill="#b4d216" filter="url(#bl2)" />
<ellipse cx="231.3" cy="368" rx="14" ry="12" fill="#c4d412" filter="url(#bl5)" opacity="0.9"/>
<rect x="264.6" y="336" width="62.8" height="66" rx="12" ry="12" fill="#1a82f0" filter="url(#bl5)" />
<rect x="270.6" y="342.5" width="50.8" height="53.5" rx="8" ry="8" fill="#40b0a0" filter="url(#bl2)" />
<rect x="272.6" y="344.5" width="46.8" height="49.5" rx="7" ry="7" fill="#bcd414" filter="url(#bl2)" />
<ellipse cx="291" cy="368" rx="14" ry="12" fill="#d8d810" filter="url(#bl5)" opacity="0.9"/>
<rect x="326.8" y="338" width="63.5" height="67" rx="12" ry="12" fill="#1a82f0" filter="url(#bl5)" />
<rect x="332.8" y="345" width="51.5" height="54" rx="8" ry="8" fill="#40b0a0" filter="url(#bl2)" />
<rect x="334.8" y="347" width="47.5" height="50" rx="7" ry="7" fill="#d4d412" filter="url(#bl2)" />
<rect x="335.8" y="385" width="45.5" height="12" rx="5" ry="5" fill="#b0cc18" filter="url(#bl3)" opacity="0.8"/>
<ellipse cx="351.5" cy="367.7" rx="16" ry="14" fill="#e8c014" filter="url(#bl5)" opacity="0.9"/>
<ellipse cx="347.5" cy="367.7" rx="10" ry="9" fill="#f2a422" filter="url(#bl5)" />
<rect x="387.3" y="338" width="60.7" height="67" rx="12" ry="12" fill="#1a82f0" filter="url(#bl5)" />
<rect x="393.3" y="345" width="48.7" height="54" rx="8" ry="8" fill="#40b0a0" filter="url(#bl2)" />
<rect x="395.3" y="347" width="44.7" height="50" rx="7" ry="7" fill="#d4d212" filter="url(#bl2)" />
<rect x="396.3" y="385" width="42.7" height="12" rx="5" ry="5" fill="#b0cc18" filter="url(#bl3)" opacity="0.8"/>
<ellipse cx="412" cy="366.8" rx="16" ry="14" fill="#e8c014" filter="url(#bl5)" opacity="0.9"/>
<ellipse cx="408" cy="366.8" rx="10" ry="9" fill="#f08a22" filter="url(#bl5)" />
<rect x="449.7" y="341.4" width="67.3" height="66.3" rx="12" ry="12" fill="#1a82f0" filter="url(#bl5)" />
<rect x="455.7" y="348.4" width="55.3" height="53.3" rx="8" ry="8" fill="#40b0a0" filter="url(#bl2)" />
<rect x="457.7" y="350.4" width="51.3" height="49.3" rx="7" ry="7" fill="#9ec614" filter="url(#bl2)" />
<rect x="518.6" y="339.5" width="59" height="64.5" rx="12" ry="12" fill="#1a82f0" filter="url(#bl5)" />
<rect x="524.6" y="346.5" width="47" height="51.5" rx="8" ry="8" fill="#40b0a0" filter="url(#bl2)" />
<rect x="526.6" y="348.5" width="43" height="47.5" rx="7" ry="7" fill="#9ec614" filter="url(#bl2)" />
<rect x="586" y="343" width="49" height="58" rx="12" ry="12" fill="#1a6ee0" filter="url(#bl5)" />
<ellipse cx="609" cy="367" rx="17" ry="15" fill="#40a890" filter="url(#bl3)" />
<ellipse cx="609" cy="367" rx="13" ry="11" fill="#84c01c" filter="url(#bl3)" />
<rect x="651" y="345.7" width="48" height="47.7" rx="8" ry="8" fill="#0a2a90" filter="url(#bl5)" opacity="0.8"/>
</g>
<g clip-path="url(#clipd2)">
<path d="M27.4,482 Q27.4,468 41.4,468 L56.6,468 Q70.6,468 70.6,482 L70.6,506 Q70.6,512 64.6,512 L33.4,512 Q27.4,512 27.4,506 Z" fill="#0a2888" filter="url(#bl5)"/>
<path d="M87,477 Q87,461 103,461 L121,461 Q137,461 137,477 L137,507 Q137,513 131,513 L93,513 Q87,513 87,507 Z" fill="#1a74e4" filter="url(#bl3)"/>
<path d="M91,480 Q91,466 105,466 L119,466 Q133,466 133,480 L133,502 Q133,508 127,508 L97,508 Q91,508 91,502 Z" fill="#2488d8" filter="url(#bl3)"/>
<ellipse cx="114.6" cy="483" rx="14" ry="12" fill="#3ea470" filter="url(#bl5)" />
<path d="M146,475 Q146,459 162,459 L187,459 Q203,459 203,475 L203,511 Q203,519 195,519 L154,519 Q146,519 146,511 Z" fill="#1a82f0" filter="url(#bl5)"/>
<path d="M152,478.5 Q152,465.5 165,465.5 L184,465.5 Q197,465.5 197,478.5 L197,507 Q197,513 191,513 L158,513 Q152,513 152,507 Z" fill="#44b498" filter="url(#bl2)"/>
<path d="M154,479.5 Q154,467.5 166,467.5 L183,467.5 Q195,467.5 195,479.5 L195,506 Q195,511 190,511 L159,511 Q154,511 154,506 Z" fill="#c8d414" filter="url(#bl2)"/>
<ellipse cx="173" cy="485" rx="15" ry="12" fill="#e6c812" filter="url(#bl5)" />
<ellipse cx="175" cy="483" rx="7" ry="6" fill="#f0b010" filter="url(#bl3)" />
<path d="M207.3,476.5 Q207.3,458.5 225.3,458.5 L245,458.5 Q263,458.5 263,476.5 L263,517.6 Q263,527.6 253,527.6 L217.3,527.6 Q207.3,527.6 207.3,517.6 Z" fill="#1a82f0" filter="url(#bl5)"/>
<path d="M213.3,480.5 Q213.3,464.5 229.3,464.5 L241,464.5 Q257,464.5 257,480.5 L257,515.6 Q257,522.6 250,522.6 L220.3,522.6 Q213.3,522.6 213.3,515.6 Z" fill="#58bc60" filter="url(#bl2)"/>
<path d="M215.3,481.5 Q215.3,466.5 230.3,466.5 L240,466.5 Q255,466.5 255,481.5 L255,514.6 Q255,520.6 249,520.6 L221.3,520.6 Q215.3,520.6 215.3,514.6 Z" fill="#c8d812" filter="url(#bl2)"/>
<path d="M218,483 Q218,468 233,468 L237,468 Q252,468 252,483 L252,499 Q252,507 244,507 L226,507 Q218,507 218,499 Z" fill="#f4a01e" filter="url(#bl3)"/>
<path d="M220,484 Q220,470 234,470 L236,470 Q250,470 250,484 L250,494 Q250,502 242,502 L228,502 Q220,502 220,494 Z" fill="#f0264c" filter="url(#bl3)"/>
<path d="M226,484 Q226,474 236,474 L236,474 Q246,474 246,484 L246,486 Q246,494 238,494 L234,494 Q226,494 226,486 Z" fill="#f01e48" filter="url(#bl5)"/>
<path d="M229,485 Q229,477 237,477 L235,477 Q243,477 243,485 L243,485 Q243,491 237,491 L235,491 Q229,491 229,485 Z" fill="#f01e48" filter="url(#bl3)"/>
<path d="M267,476 Q267,458 285,458 L305.9,458 Q323.9,458 323.9,476 L323.9,518 Q323.9,528 313.9,528 L277,528 Q267,528 267,518 Z" fill="#1a82f0" filter="url(#bl5)"/>
<path d="M273,480 Q273,464 289,464 L301.9,464 Q317.9,464 317.9,480 L317.9,516 Q317.9,523 310.9,523 L280,523 Q273,523 273,516 Z" fill="#58bc60" filter="url(#bl2)"/>
<path d="M275,481 Q275,466 290,466 L300.9,466 Q315.9,466 315.9,481 L315.9,515 Q315.9,521 309.9,521 L281,521 Q275,521 275,515 Z" fill="#c8d812" filter="url(#bl2)"/>
<path d="M277,482 Q277,467 292,467 L299,467 Q314,467 314,482 L314,503 Q314,511 306,511 L285,511 Q277,511 277,503 Z" fill="#f4a01e" filter="url(#bl3)"/>
<path d="M279,483 Q279,469 293,469 L298,469 Q312,469 312,483 L312,498 Q312,506 304,506 L287,506 Q279,506 279,498 Z" fill="#f0264c" filter="url(#bl3)"/>
<path d="M285,484 Q285,474 295,474 L295,474 Q305,474 305,484 L305,488 Q305,496 297,496 L293,496 Q285,496 285,488 Z" fill="#f84c72" filter="url(#bl5)"/>
<path d="M288,485 Q288,477 296,477 L294,477 Q302,477 302,485 L302,487 Q302,493 296,493 L294,493 Q288,493 288,487 Z" fill="#f84c72" filter="url(#bl3)"/>
<path d="M326.6,476 Q326.6,458 344.6,458 L364.3,458 Q382.3,458 382.3,476 L382.3,520 Q382.3,530 372.3,530 L336.6,530 Q326.6,530 326.6,520 Z" fill="#1a82f0" filter="url(#bl5)"/>
<path d="M332.6,480 Q332.6,464 348.6,464 L360.3,464 Q376.3,464 376.3,480 L376.3,518 Q376.3,525 369.3,525 L339.6,525 Q332.6,525 332.6,518 Z" fill="#58bc60" filter="url(#bl2)"/>
<path d="M334.6,481 Q334.6,466 349.6,466 L359.3,466 Q374.3,466 374.3,481 L374.3,517 Q374.3,523 368.3,523 L340.6,523 Q334.6,523 334.6,517 Z" fill="#c8d812" filter="url(#bl2)"/>
<path d="M335,482 Q335,467 350,467 L359,467 Q374,467 374,482 L374,511 Q374,519 366,519 L343,519 Q335,519 335,511 Z" fill="#f4a01e" filter="url(#bl3)"/>
<path d="M337,483 Q337,469 351,469 L358,469 Q372,469 372,483 L372,506 Q372,514 364,514 L345,514 Q337,514 337,506 Z" fill="#f0264c" filter="url(#bl3)"/>
<path d="M343,484 Q343,474 353,474 L356,474 Q366,474 366,484 L366,494 Q366,502 358,502 L351,502 Q343,502 343,494 Z" fill="#f8b4a8" filter="url(#bl5)"/>
<path d="M346,485 Q346,477 354,477 L355,477 Q363,477 363,485 L363,493 Q363,499 357,499 L352,499 Q346,499 346,493 Z" fill="#f8b4a8" filter="url(#bl3)"/>
<path d="M386.2,481 Q386.2,463 404.2,463 L427.5,463 Q445.5,463 445.5,481 L445.5,524.7 Q445.5,534.7 435.5,534.7 L396.2,534.7 Q386.2,534.7 386.2,524.7 Z" fill="#1a82f0" filter="url(#bl5)"/>
<path d="M392.2,485 Q392.2,469 408.2,469 L423.5,469 Q439.5,469 439.5,485 L439.5,522.7 Q439.5,529.7 432.5,529.7 L399.2,529.7 Q392.2,529.7 392.2,522.7 Z" fill="#58bc60" filter="url(#bl2)"/>
<path d="M394.2,486 Q394.2,471 409.2,471 L422.5,471 Q437.5,471 437.5,486 L437.5,521.7 Q437.5,527.7 431.5,527.7 L400.2,527.7 Q394.2,527.7 394.2,521.7 Z" fill="#c8d812" filter="url(#bl2)"/>
<path d="M394.5,486 Q394.5,471 409.5,471 L422.5,471 Q437.5,471 437.5,486 L437.5,516 Q437.5,524 429.5,524 L402.5,524 Q394.5,524 394.5,516 Z" fill="#f4a01e" filter="url(#bl3)"/>
<path d="M396.5,487 Q396.5,473 410.5,473 L421.5,473 Q435.5,473 435.5,487 L435.5,511 Q435.5,519 427.5,519 L404.5,519 Q396.5,519 396.5,511 Z" fill="#f0264c" filter="url(#bl3)"/>
<path d="M402,487 Q402,477 412,477 L420,477 Q430,477 430,487 L430,499 Q430,507 422,507 L410,507 Q402,507 402,499 Z" fill="#f9e8d4" filter="url(#bl5)"/>
<path d="M405,488 Q405,480 413,480 L419,480 Q427,480 427,488 L427,498 Q427,504 421,504 L411,504 Q405,504 405,498 Z" fill="#f9e8d4" filter="url(#bl3)"/>
<rect x="451.6" y="459.8" width="61" height="65.1" rx="14" ry="14" fill="#1a82f0" filter="url(#bl5)" />
<path d="M457.6,478.8 Q457.6,466.8 469.6,466.8 L494.6,466.8 Q506.6,466.8 506.6,478.8 L506.6,509.9 Q506.6,513.9 502.6,513.9 L461.6,513.9 Q457.6,513.9 457.6,509.9 Z" fill="#40b0a0" filter="url(#bl2)"/>
<path d="M459.6,479.8 Q459.6,468.8 470.6,468.8 L493.6,468.8 Q504.6,468.8 504.6,479.8 L504.6,508.9 Q504.6,511.9 501.6,511.9 L462.6,511.9 Q459.6,511.9 459.6,508.9 Z" fill="#a6ca14" filter="url(#bl2)"/>
<rect x="517.2" y="461" width="57.4" height="62.2" rx="14" ry="14" fill="#1a82f0" filter="url(#bl5)" />
<path d="M523.2,480 Q523.2,468 535.2,468 L556.6,468 Q568.6,468 568.6,480 L568.6,508.2 Q568.6,512.2 564.6,512.2 L527.2,512.2 Q523.2,512.2 523.2,508.2 Z" fill="#40b0a0" filter="url(#bl2)"/>
<path d="M525.2,481 Q525.2,470 536.2,470 L555.6,470 Q566.6,470 566.6,481 L566.6,507.2 Q566.6,510.2 563.6,510.2 L528.2,510.2 Q525.2,510.2 525.2,507.2 Z" fill="#a6ca14" filter="url(#bl2)"/>
<rect x="587" y="466" width="46" height="57" rx="14" ry="14" fill="#1a6ee0" filter="url(#bl5)" />
<ellipse cx="611" cy="488" rx="18" ry="13" fill="#40a890" filter="url(#bl3)" />
<ellipse cx="611" cy="488" rx="14" ry="9.5" fill="#84c01c" filter="url(#bl3)" />
<path d="M653,481.8 Q653,467.8 667,467.8 L682.4,467.8 Q696.4,467.8 696.4,481.8 L696.4,511.8 Q696.4,519.8 688.4,519.8 L661,519.8 Q653,519.8 653,511.8 Z" fill="#0a2a90" filter="url(#bl5)"/>
</g>
<text x="20" y="348.2" font-size="21.5" fill="#fff" text-anchor="start" stroke="#fff" stroke-width="0.3">(d)</text>
<text x="23" y="400.5" font-size="16.5" fill="#fff" text-anchor="start" >CMF/PW</text>
<text x="22.8" y="525" font-size="16.5" fill="#fff" text-anchor="start" >CMF@Co-N/C-B/PW</text>
<text x="25" y="439" font-size="21.2" fill="#f01010" text-anchor="start" >25 °C</text>
<text x="687.6" y="439" font-size="21.2" fill="#f01010" text-anchor="end" >80 °C</text></g>
<g id="panel_e"><defs><linearGradient id="ebg" x1="0" y1="1" x2="1" y2="0"><stop offset="0" stop-color="#d6eef4"/><stop offset="0.5" stop-color="#efe6dc"/><stop offset="1" stop-color="#fce3cc"/></linearGradient><radialGradient id="ball0" cx="0.38" cy="0.35" r="0.7"><stop offset="0" stop-color="#ffffff" stop-opacity="0.9"/><stop offset="0.25" stop-color="#1aa0ee"/><stop offset="1" stop-color="#1aa0ee"/></radialGradient><radialGradient id="ball1" cx="0.38" cy="0.35" r="0.7"><stop offset="0" stop-color="#ffffff" stop-opacity="0.9"/><stop offset="0.25" stop-color="#a02ce8"/><stop offset="1" stop-color="#a02ce8"/></radialGradient><radialGradient id="ball2" cx="0.38" cy="0.35" r="0.7"><stop offset="0" stop-color="#ffffff" stop-opacity="0.9"/><stop offset="0.25" stop-color="#a0c214"/><stop offset="1" stop-color="#a0c214"/></radialGradient><radialGradient id="ball3" cx="0.38" cy="0.35" r="0.7"><stop offset="0" stop-color="#ffffff" stop-opacity="0.9"/><stop offset="0.25" stop-color="#18e018"/><stop offset="1" stop-color="#18e018"/></radialGradient><radialGradient id="ball4" cx="0.38" cy="0.35" r="0.7"><stop offset="0" stop-color="#ffffff" stop-opacity="0.9"/><stop offset="0.25" stop-color="#d2309e"/><stop offset="1" stop-color="#d2309e"/></radialGradient><radialGradient id="ball5" cx="0.38" cy="0.35" r="0.7"><stop offset="0" stop-color="#ffffff" stop-opacity="0.9"/><stop offset="0.25" stop-color="#8a4418"/><stop offset="1" stop-color="#8a4418"/></radialGradient><radialGradient id="ball6" cx="0.38" cy="0.35" r="0.7"><stop offset="0" stop-color="#ffffff" stop-opacity="0.9"/><stop offset="0.25" stop-color="#2ec07c"/><stop offset="1" stop-color="#2ec07c"/></radialGradient><radialGradient id="ball7" cx="0.38" cy="0.35" r="0.7"><stop offset="0" stop-color="#ffffff" stop-opacity="0.9"/><stop offset="0.25" stop-color="#2a10e8"/><stop offset="1" stop-color="#2a10e8"/></radialGradient><radialGradient id="ball8" cx="0.38" cy="0.35" r="0.7"><stop offset="0" stop-color="#ffffff" stop-opacity="0.9"/><stop offset="0.25" stop-color="#f2bc0c"/><stop offset="1" stop-color="#f2bc0c"/></radialGradient><radialGradient id="ball9" cx="0.38" cy="0.35" r="0.7"><stop offset="0" stop-color="#ffffff" stop-opacity="0.9"/><stop offset="0.25" stop-color="#1050d0"/><stop offset="1" stop-color="#1050d0"/></radialGradient><radialGradient id="ball10" cx="0.38" cy="0.35" r="0.7"><stop offset="0" stop-color="#ffffff" stop-opacity="0.9"/><stop offset="0.25" stop-color="#20b4f0"/><stop offset="1" stop-color="#20b4f0"/></radialGradient><radialGradient id="ball11" cx="0.38" cy="0.35" r="0.7"><stop offset="0" stop-color="#ffffff" stop-opacity="0.9"/><stop offset="0.25" stop-color="#f07010"/><stop offset="1" stop-color="#f07010"/></radialGradient><radialGradient id="ball12" cx="0.38" cy="0.35" r="0.7"><stop offset="0" stop-color="#ffffff" stop-opacity="0.9"/><stop offset="0.25" stop-color="#f070f0"/><stop offset="1" stop-color="#f070f0"/></radialGradient></defs>
<rect x="783.2" y="303.5" width="297.6" height="239.5" fill="url(#ebg)"/>
<circle cx="812.1" cy="336.3" r="5.2" fill="url(#ball0)"/><circle cx="810.6" cy="334.5" r="1.3" fill="#fff" opacity="0.9"/>
<circle cx="878.9" cy="353.5" r="5.2" fill="url(#ball1)"/><circle cx="877.4" cy="351.7" r="1.3" fill="#fff" opacity="0.9"/>
<circle cx="868.9" cy="357.6" r="5.2" fill="url(#ball2)"/><circle cx="867.4" cy="355.8" r="1.3" fill="#fff" opacity="0.9"/>
<circle cx="915.7" cy="361.7" r="5.2" fill="url(#ball3)"/><circle cx="914.2" cy="359.9" r="1.3" fill="#fff" opacity="0.9"/>
<circle cx="960.6" cy="337" r="5.2" fill="url(#ball4)"/><circle cx="959.1" cy="335.2" r="1.3" fill="#fff" opacity="0.9"/>
<circle cx="938.6" cy="369.2" r="5.2" fill="url(#ball5)"/><circle cx="937.1" cy="367.4" r="1.3" fill="#fff" opacity="0.9"/>
<circle cx="842" cy="383.6" r="5.2" fill="url(#ball6)"/><circle cx="840.5" cy="381.8" r="1.3" fill="#fff" opacity="0.9"/>
<circle cx="806.1" cy="394.5" r="5.2" fill="url(#ball7)"/><circle cx="804.6" cy="392.7" r="1.3" fill="#fff" opacity="0.9"/>
<circle cx="1063.2" cy="404.8" r="5.2" fill="url(#ball8)"/><circle cx="1061.7" cy="403" r="1.3" fill="#fff" opacity="0.9"/>
<circle cx="867.9" cy="434.9" r="5.2" fill="url(#ball9)"/><circle cx="866.4" cy="433.1" r="1.3" fill="#fff" opacity="0.9"/>
<circle cx="912.7" cy="436.3" r="5.2" fill="url(#ball10)"/><circle cx="911.2" cy="434.5" r="1.3" fill="#fff" opacity="0.9"/>
<circle cx="844" cy="444.5" r="5.2" fill="url(#ball11)"/><circle cx="842.5" cy="442.7" r="1.3" fill="#fff" opacity="0.9"/>
<circle cx="1024.3" cy="526.6" r="5.2" fill="url(#ball12)"/><circle cx="1022.8" cy="524.8" r="1.3" fill="#fff" opacity="0.9"/>
<path d="M797.9,343.8 L802.7,343.8 Q799.1,349.6 802.7,355.5 L797.9,355.5 Z" fill="#111"/><path d="M825.5,343.8 L820.7,343.8 Q824.3,349.6 820.7,355.5 L825.5,355.5 Z" fill="#111"/><text x="811.7" y="354.6" font-size="14" fill="#111" text-anchor="middle" >38</text>
<path d="M865.7,335.2 L870.5,335.2 Q866.9,341 870.5,346.9 L865.7,346.9 Z" fill="#111"/><path d="M893.3,335.2 L888.5,335.2 Q892.1,341 888.5,346.9 L893.3,346.9 Z" fill="#111"/><text x="879.5" y="346" font-size="14" fill="#111" text-anchor="middle" >62</text>
<path d="M853.8,364 L858.6,364 Q855,369.9 858.6,375.7 L853.8,375.7 Z" fill="#111"/><path d="M881.4,364 L876.6,364 Q880.2,369.9 876.6,375.7 L881.4,375.7 Z" fill="#111"/><text x="867.6" y="374.8" font-size="14" fill="#111" text-anchor="middle" >60</text>
<path d="M901.5,343.4 L906.3,343.4 Q902.7,349.2 906.3,355.1 L901.5,355.1 Z" fill="#111"/><path d="M929.1,343.4 L924.3,343.4 Q927.9,349.2 924.3,355.1 L929.1,355.1 Z" fill="#111"/><text x="915.3" y="354.2" font-size="14" fill="#111" text-anchor="middle" >57</text>
<path d="M945.8,343.4 L950.6,343.4 Q947,349.2 950.6,355.1 L945.8,355.1 Z" fill="#111"/><path d="M973.4,343.4 L968.6,343.4 Q972.2,349.2 968.6,355.1 L973.4,355.1 Z" fill="#111"/><text x="959.6" y="354.2" font-size="14" fill="#111" text-anchor="middle" >54</text>
<path d="M923.5,374.6 L928.3,374.6 Q924.7,380.4 928.3,386.3 L923.5,386.3 Z" fill="#111"/><path d="M951.1,374.6 L946.3,374.6 Q949.9,380.4 946.3,386.3 L951.1,386.3 Z" fill="#111"/><text x="937.3" y="385.4" font-size="14" fill="#111" text-anchor="middle" >63</text>
<path d="M828,388.7 L832.8,388.7 Q829.2,394.5 832.8,400.4 L828,400.4 Z" fill="#111"/><path d="M855.6,388.7 L850.8,388.7 Q854.4,394.5 850.8,400.4 L855.6,400.4 Z" fill="#111"/><text x="841.8" y="399.5" font-size="14" fill="#111" text-anchor="middle" >58</text>
<path d="M792.1,400 L796.9,400 Q793.3,405.9 796.9,411.7 L792.1,411.7 Z" fill="#111"/><path d="M819.7,400 L814.9,400 Q818.5,405.9 814.9,411.7 L819.7,411.7 Z" fill="#111"/><text x="805.9" y="410.8" font-size="14" fill="#111" text-anchor="middle" >61</text>
<path d="M1049.2,411.2 L1054,411.2 Q1050.4,417 1054,422.9 L1049.2,422.9 Z" fill="#111"/><path d="M1076.8,411.2 L1072,411.2 Q1075.6,417 1072,422.9 L1076.8,422.9 Z" fill="#111"/><text x="1063" y="422" font-size="14" fill="#111" text-anchor="middle" >56</text>
<path d="M853.8,415.6 L858.6,415.6 Q855,421.4 858.6,427.3 L853.8,427.3 Z" fill="#111"/><path d="M881.4,415.6 L876.6,415.6 Q880.2,421.4 876.6,427.3 L881.4,427.3 Z" fill="#111"/><text x="867.6" y="426.4" font-size="14" fill="#111" text-anchor="middle" >50</text>
<path d="M898.7,441.8 L903.5,441.8 Q899.9,447.6 903.5,453.5 L898.7,453.5 Z" fill="#111"/><path d="M926.3,441.8 L921.5,441.8 Q925.1,447.6 921.5,453.5 L926.3,453.5 Z" fill="#111"/><text x="912.5" y="452.6" font-size="14" fill="#111" text-anchor="middle" >59</text>
<path d="M829.7,450.5 L834.5,450.5 Q830.9,456.4 834.5,462.2 L829.7,462.2 Z" fill="#111"/><path d="M857.3,450.5 L852.5,450.5 Q856.1,456.4 852.5,462.2 L857.3,462.2 Z" fill="#111"/><text x="843.5" y="461.3" font-size="14" fill="#111" text-anchor="middle" >55</text>
<path d="M1010,506.2 L1014.8,506.2 Q1011.2,512 1014.8,517.9 L1010,517.9 Z" fill="#111"/><path d="M1037.6,506.2 L1032.8,506.2 Q1036.4,512 1032.8,517.9 L1037.6,517.9 Z" fill="#111"/><text x="1023.8" y="517" font-size="14" fill="#111" text-anchor="middle" >53</text>
<path d="M1024.3,335.8 L1027,343.2 L1035,343.5 L1028.7,348.4 L1030.9,356 L1024.3,351.6 L1017.8,356 L1020,348.4 L1013.7,343.5 L1021.6,343.2 Z" fill="#f04048"/>
<text x="1024.9" y="368.9" font-size="13" fill="#ee3a32" text-anchor="middle" >This work</text>
<rect x="783.2" y="303.5" width="297.6" height="239.5" fill="none" stroke="#1a1a1a" stroke-width="1.5"/>
<line x1="778.7" y1="543" x2="783.2" y2="543" stroke="#1a1a1a" stroke-width="1.3"/>
<text x="776" y="547.5" font-size="12.5" fill="#111" text-anchor="end" >65</text>
<line x1="780.7" y1="525.9" x2="783.2" y2="525.9" stroke="#1a1a1a" stroke-width="1.3"/>
<line x1="778.7" y1="508.8" x2="783.2" y2="508.8" stroke="#1a1a1a" stroke-width="1.3"/>
<text x="776" y="513.3" font-size="12.5" fill="#111" text-anchor="end" >70</text>
<line x1="780.7" y1="491.7" x2="783.2" y2="491.7" stroke="#1a1a1a" stroke-width="1.3"/>
<line x1="778.7" y1="474.6" x2="783.2" y2="474.6" stroke="#1a1a1a" stroke-width="1.3"/>
<text x="776" y="479.1" font-size="12.5" fill="#111" text-anchor="end" >75</text>
<line x1="780.7" y1="457.5" x2="783.2" y2="457.5" stroke="#1a1a1a" stroke-width="1.3"/>
<line x1="778.7" y1="440.4" x2="783.2" y2="440.4" stroke="#1a1a1a" stroke-width="1.3"/>
<text x="776" y="444.9" font-size="12.5" fill="#111" text-anchor="end" >80</text>
<line x1="780.7" y1="423.3" x2="783.2" y2="423.3" stroke="#1a1a1a" stroke-width="1.3"/>
<line x1="778.7" y1="406.1" x2="783.2" y2="406.1" stroke="#1a1a1a" stroke-width="1.3"/>
<text x="776" y="410.6" font-size="12.5" fill="#111" text-anchor="end" >85</text>
<line x1="780.7" y1="389" x2="783.2" y2="389" stroke="#1a1a1a" stroke-width="1.3"/>
<line x1="778.7" y1="371.9" x2="783.2" y2="371.9" stroke="#1a1a1a" stroke-width="1.3"/>
<text x="776" y="376.4" font-size="12.5" fill="#111" text-anchor="end" >90</text>
<line x1="780.7" y1="354.8" x2="783.2" y2="354.8" stroke="#1a1a1a" stroke-width="1.3"/>
<line x1="778.7" y1="337.7" x2="783.2" y2="337.7" stroke="#1a1a1a" stroke-width="1.3"/>
<text x="776" y="342.2" font-size="12.5" fill="#111" text-anchor="end" >95</text>
<line x1="780.7" y1="320.6" x2="783.2" y2="320.6" stroke="#1a1a1a" stroke-width="1.3"/>
<line x1="778.7" y1="303.5" x2="783.2" y2="303.5" stroke="#1a1a1a" stroke-width="1.3"/>
<text x="776" y="308" font-size="12.5" fill="#111" text-anchor="end" >100</text>
<line x1="783.2" y1="543.0" x2="783.2" y2="547.5" stroke="#1a1a1a" stroke-width="1.3"/>
<text x="783.2" y="559" font-size="12.5" fill="#111" text-anchor="middle" >100</text>
<line x1="803.1" y1="543.0" x2="803.1" y2="545.5" stroke="#1a1a1a" stroke-width="1.3"/>
<line x1="823.1" y1="543.0" x2="823.1" y2="547.5" stroke="#1a1a1a" stroke-width="1.3"/>
<text x="823.1" y="559" font-size="12.5" fill="#111" text-anchor="middle" >120</text>
<line x1="843" y1="543.0" x2="843" y2="545.5" stroke="#1a1a1a" stroke-width="1.3"/>
<line x1="862.9" y1="543.0" x2="862.9" y2="547.5" stroke="#1a1a1a" stroke-width="1.3"/>
<text x="862.9" y="559" font-size="12.5" fill="#111" text-anchor="middle" >140</text>
<line x1="882.8" y1="543.0" x2="882.8" y2="545.5" stroke="#1a1a1a" stroke-width="1.3"/>
<line x1="902.8" y1="543.0" x2="902.8" y2="547.5" stroke="#1a1a1a" stroke-width="1.3"/>
<text x="902.8" y="559" font-size="12.5" fill="#111" text-anchor="middle" >160</text>
<line x1="922.7" y1="543.0" x2="922.7" y2="545.5" stroke="#1a1a1a" stroke-width="1.3"/>
<line x1="942.6" y1="543.0" x2="942.6" y2="547.5" stroke="#1a1a1a" stroke-width="1.3"/>
<text x="942.6" y="559" font-size="12.5" fill="#111" text-anchor="middle" >180</text>
<line x1="962.6" y1="543.0" x2="962.6" y2="545.5" stroke="#1a1a1a" stroke-width="1.3"/>
<line x1="982.5" y1="543.0" x2="982.5" y2="547.5" stroke="#1a1a1a" stroke-width="1.3"/>
<text x="982.5" y="559" font-size="12.5" fill="#111" text-anchor="middle" >200</text>
<line x1="1002.4" y1="543.0" x2="1002.4" y2="545.5" stroke="#1a1a1a" stroke-width="1.3"/>
<line x1="1022.3" y1="543.0" x2="1022.3" y2="547.5" stroke="#1a1a1a" stroke-width="1.3"/>
<text x="1022.3" y="559" font-size="12.5" fill="#111" text-anchor="middle" >220</text>
<line x1="1042.3" y1="543.0" x2="1042.3" y2="545.5" stroke="#1a1a1a" stroke-width="1.3"/>
<line x1="1062.2" y1="543.0" x2="1062.2" y2="547.5" stroke="#1a1a1a" stroke-width="1.3"/>
<text x="1062.2" y="559" font-size="12.5" fill="#111" text-anchor="middle" >240</text>
<line x1="1082.1" y1="543.0" x2="1082.1" y2="545.5" stroke="#1a1a1a" stroke-width="1.3"/>
<text x="931.4" y="583.3" font-size="15.7" fill="#111" text-anchor="middle" >Heat flow (J/g)</text>
<text x="0" y="0" font-size="16" fill="#111" text-anchor="middle" transform="translate(731.3,425) rotate(-90)">Solar-Thermal energy conversion</text>
<text x="0" y="0" font-size="15.6" fill="#111" text-anchor="middle" transform="translate(752.3,423) rotate(-90)">effciency (%)</text>
<text x="715" y="303" font-size="22.5" fill="#111" text-anchor="start" stroke="#111" stroke-width="0.35">(e)</text></g>
<g id="panel_f"><defs><linearGradient id="fbg" x1="0" y1="591" x2="0" y2="1197" gradientUnits="userSpaceOnUse"><stop offset="0" stop-color="#f5f7f9"/><stop offset="0.06" stop-color="#ebf5f9"/><stop offset="0.12" stop-color="#ddf2f8"/><stop offset="0.2" stop-color="#c9ecf7"/><stop offset="0.3" stop-color="#b8e8f6"/><stop offset="0.45" stop-color="#b0e6f5"/><stop offset="0.62" stop-color="#b2e7f5"/><stop offset="0.72" stop-color="#c2ebf7"/><stop offset="0.82" stop-color="#d8f2f9"/><stop offset="0.9" stop-color="#eaf7fb"/><stop offset="0.96" stop-color="#f6fbfd"/><stop offset="1" stop-color="#ffffff"/></linearGradient><filter id="fb2" x="-50%" y="-50%" width="200%" height="200%"><feGaussianBlur stdDeviation="2"/></filter><filter id="fb3" x="-50%" y="-50%" width="200%" height="200%"><feGaussianBlur stdDeviation="3"/></filter><filter id="fb4" x="-50%" y="-50%" width="200%" height="200%"><feGaussianBlur stdDeviation="4"/></filter><filter id="fb6" x="-50%" y="-50%" width="200%" height="200%"><feGaussianBlur stdDeviation="6"/></filter><filter id="fb8" x="-50%" y="-50%" width="200%" height="200%"><feGaussianBlur stdDeviation="8"/></filter><linearGradient id="cyc1" x1="560" y1="612" x2="426" y2="719" gradientUnits="userSpaceOnUse"><stop offset="0" stop-color="#1c1c1c"/><stop offset="0.45" stop-color="#8a8a8a"/><stop offset="1" stop-color="#dcdcdc"/></linearGradient><linearGradient id="cyc2" x1="432" y1="750" x2="560" y2="829" gradientUnits="userSpaceOnUse"><stop offset="0" stop-color="#606060"/><stop offset="0.5" stop-color="#9a9a9a"/><stop offset="1" stop-color="#d0d0d0"/></linearGradient><linearGradient id="cyc3" x1="566" y1="612" x2="695" y2="694" gradientUnits="userSpaceOnUse"><stop offset="0" stop-color="#f2e2f0"/><stop offset="0.45" stop-color="#e8b4e0"/><stop offset="0.75" stop-color="#dc7ec8"/><stop offset="1" stop-color="#e070d4"/></linearGradient><linearGradient id="cyc4" x1="700" y1="722" x2="566" y2="829" gradientUnits="userSpaceOnUse"><stop offset="0" stop-color="#f4ecf4"/><stop offset="0.45" stop-color="#e8a8e0"/><stop offset="1" stop-color="#f26ee4"/></linearGradient></defs>
<rect x="14.2" y="591.2" width="1075.8" height="605.8" fill="url(#fbg)"/>
<text x="19.5" y="626.6" font-size="22" fill="#111" text-anchor="start" stroke="#111" stroke-width="0.3">(f)</text>
<path d="M560.1,612.4 L554.8,612.6 L549.5,612.9 L544.3,613.4 L539,614.1 L533.8,614.9 L528.7,615.8 L523.5,617 L518.5,618.3 L513.5,619.7 L508.6,621.3 L503.8,623 L499,624.9 L494.4,626.9 L489.8,629.1 L485.4,631.4 L481.1,633.8 L476.9,636.4 L472.8,639.1 L468.9,641.9 L465.1,644.8 L461.5,647.9 L458,651 L454.7,654.3 L451.5,657.7 L448.5,661.1 L445.7,664.6 L443,668.3 L440.5,672 L438.3,675.8 L436.2,679.6 L434.2,683.5 L432.5,687.5 L431,691.5 L429.7,695.5 L428.6,699.6 L427.6,703.7 L426.9,707.9 L426.4,712 L426.1,716.2 L426,720.4" fill="none" stroke="url(#cyc1)" stroke-width="10.6"/>
<path d="M429,742.9 L430,746.4 L431.2,749.9 L432.6,753.4 L434,756.8 L435.7,760.2 L437.4,763.6 L439.4,766.9 L441.4,770.2 L443.6,773.4 L445.9,776.5 L448.4,779.6 L451,782.6 L453.7,785.5 L456.6,788.4 L459.5,791.2 L462.6,793.9 L465.8,796.5 L469.1,799.1 L472.5,801.5 L476,803.9 L479.7,806.1 L483.4,808.3 L487.2,810.3 L491.1,812.3 L495,814.2 L499.1,815.9 L503.2,817.6 L507.4,819.1 L511.6,820.5 L515.9,821.8 L520.3,823 L524.7,824.1 L529.1,825 L533.6,825.9 L538.2,826.6 L542.7,827.2 L547.3,827.7 L551.9,828 L556.5,828.3 L561.1,828.4" fill="none" stroke="url(#cyc2)" stroke-width="10.6"/>
<path d="M566.6,612.4 L571.2,612.6 L575.8,612.9 L580.4,613.3 L585,613.8 L589.6,614.5 L594.1,615.2 L598.6,616.1 L603.1,617.1 L607.5,618.2 L611.8,619.5 L616.1,620.8 L620.4,622.3 L624.5,623.9 L628.6,625.6 L632.7,627.4 L636.6,629.3 L640.5,631.3 L644.3,633.4 L647.9,635.7 L651.5,638 L655,640.4 L658.4,642.9 L661.7,645.5 L664.8,648.1 L667.9,650.9 L670.8,653.7 L673.6,656.6 L676.2,659.6 L678.8,662.7 L681.2,665.8 L683.5,669 L685.6,672.2 L687.6,675.5 L689.5,678.9 L691.2,682.2 L692.7,685.7 L694.1,689.2 L695.4,692.7 L696.5,696.2 L697.5,699.8" fill="none" stroke="url(#cyc3)" stroke-width="10.6"/>
<path d="M700,722.3 L699.8,726.4 L699.4,730.5 L698.8,734.7 L698,738.7 L697,742.8 L695.8,746.8 L694.4,750.8 L692.9,754.8 L691.1,758.7 L689.2,762.5 L687,766.3 L684.7,770 L682.2,773.6 L679.5,777.2 L676.7,780.7 L673.7,784.1 L670.5,787.4 L667.2,790.6 L663.7,793.6 L660,796.6 L656.3,799.5 L652.4,802.3 L648.3,804.9 L644.1,807.4 L639.9,809.8 L635.5,812.1 L631,814.2 L626.3,816.2 L621.6,818 L616.9,819.7 L612,821.3 L607.1,822.7 L602.1,823.9 L597,825 L591.9,826 L586.7,826.8 L581.6,827.4 L576.3,827.9 L571.1,828.2 L565.9,828.4" fill="none" stroke="url(#cyc4)" stroke-width="10.6"/>
<path d="M426.3,721.7 L446.8,751.8 L436.7,746.8 L424.6,747.6 L414.2,756 Z" fill="#585858"/>
<path d="M699.1,719.7 L711.6,685.6 L701,694 L689.6,694.6 L678.6,689.6 Z" fill="#e272d6"/>
<text x="567.5" y="668.3" font-size="26.7" fill="#f87af0" text-anchor="middle" >Exothermal</text>
<text x="567.3" y="796.8" font-size="26.6" fill="#12aaea" text-anchor="middle" >Endothermal</text>
<g filter="url(#fb3)" opacity="0.95"><g stroke="#ffffff" stroke-width="8" stroke-linecap="round" fill="none"><line x1="481.6" y1="716.4" x2="481.6" y2="692.4"/><line x1="481.6" y1="705.6" x2="487.5" y2="701"/><line x1="481.6" y1="705.6" x2="475.8" y2="701"/><line x1="481.6" y1="698.4" x2="486.3" y2="694.7"/><line x1="481.6" y1="698.4" x2="476.9" y2="694.7"/><line x1="481.6" y1="716.4" x2="502.4" y2="704.4"/><line x1="491" y1="711" x2="497.9" y2="713.7"/><line x1="491" y1="711" x2="492.1" y2="703.6"/><line x1="497.2" y1="707.4" x2="502.8" y2="709.6"/><line x1="497.2" y1="707.4" x2="498.1" y2="701.5"/><line x1="481.6" y1="716.4" x2="502.4" y2="728.4"/><line x1="491" y1="721.8" x2="492.1" y2="729.2"/><line x1="491" y1="721.8" x2="497.9" y2="719.1"/><line x1="497.2" y1="725.4" x2="498.1" y2="731.3"/><line x1="497.2" y1="725.4" x2="502.8" y2="723.2"/><line x1="481.6" y1="716.4" x2="481.6" y2="740.4"/><line x1="481.6" y1="727.2" x2="475.8" y2="731.8"/><line x1="481.6" y1="727.2" x2="487.5" y2="731.8"/><line x1="481.6" y1="734.4" x2="476.9" y2="738.1"/><line x1="481.6" y1="734.4" x2="486.3" y2="738.1"/><line x1="481.6" y1="716.4" x2="460.8" y2="728.4"/><line x1="472.2" y1="721.8" x2="465.3" y2="719.1"/><line x1="472.2" y1="721.8" x2="471.1" y2="729.2"/><line x1="466" y1="725.4" x2="460.4" y2="723.2"/><line x1="466" y1="725.4" x2="465.1" y2="731.3"/><line x1="481.6" y1="716.4" x2="460.8" y2="704.4"/><line x1="472.2" y1="711" x2="471.1" y2="703.6"/><line x1="472.2" y1="711" x2="465.3" y2="713.7"/><line x1="466" y1="707.4" x2="465.1" y2="701.5"/><line x1="466" y1="707.4" x2="460.4" y2="709.6"/></g><circle cx="481.6" cy="716.4" r="5" fill="#ffffff"/></g>
<g stroke="#10a8ea" stroke-width="3.4" stroke-linecap="round" fill="none"><line x1="481.6" y1="716.4" x2="481.6" y2="693.4"/><line x1="481.6" y1="706" x2="487.5" y2="701.4"/><line x1="481.6" y1="706" x2="475.8" y2="701.4"/><line x1="481.6" y1="699.1" x2="486.3" y2="695.4"/><line x1="481.6" y1="699.1" x2="476.9" y2="695.4"/><line x1="481.6" y1="716.4" x2="501.5" y2="704.9"/><line x1="490.6" y1="711.2" x2="497.5" y2="714"/><line x1="490.6" y1="711.2" x2="491.7" y2="703.8"/><line x1="496.5" y1="707.8" x2="502.1" y2="710"/><line x1="496.5" y1="707.8" x2="497.4" y2="701.9"/><line x1="481.6" y1="716.4" x2="501.5" y2="727.9"/><line x1="490.6" y1="721.6" x2="491.7" y2="729"/><line x1="490.6" y1="721.6" x2="497.5" y2="718.8"/><line x1="496.5" y1="725" x2="497.4" y2="730.9"/><line x1="496.5" y1="725" x2="502.1" y2="722.8"/><line x1="481.6" y1="716.4" x2="481.6" y2="739.4"/><line x1="481.6" y1="726.8" x2="475.8" y2="731.4"/><line x1="481.6" y1="726.8" x2="487.5" y2="731.4"/><line x1="481.6" y1="733.6" x2="476.9" y2="737.4"/><line x1="481.6" y1="733.6" x2="486.3" y2="737.4"/><line x1="481.6" y1="716.4" x2="461.7" y2="727.9"/><line x1="472.6" y1="721.6" x2="465.7" y2="718.8"/><line x1="472.6" y1="721.6" x2="471.5" y2="729"/><line x1="466.7" y1="725" x2="461.1" y2="722.8"/><line x1="466.7" y1="725" x2="465.8" y2="730.9"/><line x1="481.6" y1="716.4" x2="461.7" y2="704.9"/><line x1="472.6" y1="711.2" x2="471.5" y2="703.8"/><line x1="472.6" y1="711.2" x2="465.7" y2="714"/><line x1="466.7" y1="707.8" x2="465.8" y2="701.9"/><line x1="466.7" y1="707.8" x2="461.1" y2="710"/></g><circle cx="481.6" cy="716.4" r="5" fill="#10a8ea"/>
<path d="M516.5,687.3 L516.5,735.8 A10.8,10.8 0 1 0 527.9,735.8 L527.9,687.3 A5.7,5.7 0 0 0 516.5,687.3 Z" fill="#ffffff" fill-opacity="0.35" stroke="#333" stroke-width="2.4"/><rect x="518.6" y="728" width="7.2" height="17" fill="#12a6e8"/><circle cx="522.2" cy="745" r="8.2" fill="#12a6e8"/><line x1="527.9" y1="689" x2="536.4" y2="689" stroke="#333" stroke-width="2.2"/><line x1="527.9" y1="698.5" x2="536.4" y2="698.5" stroke="#333" stroke-width="2.2"/><line x1="527.9" y1="709" x2="536.4" y2="709" stroke="#333" stroke-width="2.2"/><line x1="527.9" y1="718.5" x2="536.4" y2="718.5" stroke="#333" stroke-width="2.2"/><line x1="527.9" y1="729" x2="536.4" y2="729" stroke="#333" stroke-width="2.2"/>
<path d="M599.4,687.3 L599.4,735.8 A10.8,10.8 0 1 0 610.8,735.8 L610.8,687.3 A5.7,5.7 0 0 0 599.4,687.3 Z" fill="#ffffff" fill-opacity="0.35" stroke="#333" stroke-width="2.4"/><rect x="601.5" y="709" width="7.2" height="36" fill="#f46ee6"/><circle cx="605.1" cy="745" r="8.2" fill="#f46ee6"/><line x1="610.8" y1="689" x2="619.3" y2="689" stroke="#333" stroke-width="2.2"/><line x1="610.8" y1="698.5" x2="619.3" y2="698.5" stroke="#333" stroke-width="2.2"/><line x1="610.8" y1="709" x2="619.3" y2="709" stroke="#333" stroke-width="2.2"/><line x1="610.8" y1="718.5" x2="619.3" y2="718.5" stroke="#333" stroke-width="2.2"/><line x1="610.8" y1="729" x2="619.3" y2="729" stroke="#333" stroke-width="2.2"/>
<g filter="url(#fb3)"><circle cx="648.4" cy="715" r="14" fill="#ffffff"/><line x1="663.4" y1="715" x2="674.4" y2="715" stroke="#ffffff" stroke-width="7"/><line x1="659" y1="725.6" x2="666.8" y2="733.4" stroke="#ffffff" stroke-width="7"/><line x1="648.4" y1="730" x2="648.4" y2="741" stroke="#ffffff" stroke-width="7"/><line x1="637.8" y1="725.6" x2="630" y2="733.4" stroke="#ffffff" stroke-width="7"/><line x1="633.4" y1="715" x2="622.4" y2="715" stroke="#ffffff" stroke-width="7"/><line x1="637.8" y1="704.4" x2="630" y2="696.6" stroke="#ffffff" stroke-width="7"/><line x1="648.4" y1="700" x2="648.4" y2="689" stroke="#ffffff" stroke-width="7"/><line x1="659" y1="704.4" x2="666.8" y2="696.6" stroke="#ffffff" stroke-width="7"/></g>
<circle cx="648.4" cy="715" r="12.2" fill="#fdd55e"/><line x1="665.4" y1="715" x2="672.7" y2="715" stroke="#fdd55e" stroke-width="3.2"/><line x1="660.4" y1="727" x2="665.6" y2="732.2" stroke="#fdd55e" stroke-width="3.2"/><line x1="648.4" y1="732" x2="648.4" y2="739.3" stroke="#fdd55e" stroke-width="3.2"/><line x1="636.4" y1="727" x2="631.2" y2="732.2" stroke="#fdd55e" stroke-width="3.2"/><line x1="631.4" y1="715" x2="624.1" y2="715" stroke="#fdd55e" stroke-width="3.2"/><line x1="636.4" y1="703" x2="631.2" y2="697.8" stroke="#fdd55e" stroke-width="3.2"/><line x1="648.4" y1="698" x2="648.4" y2="690.7" stroke="#fdd55e" stroke-width="3.2"/><line x1="660.4" y1="703" x2="665.6" y2="697.8" stroke="#fdd55e" stroke-width="3.2"/>
<path d="M127.7,905 C133.1,903.9 147,906.1 154.9,899.3 C162.8,892.6 159,874.2 167.2,871.1 C175.4,868 184,883.6 196,884 C207.9,884.4 219.9,869.6 226.8,873 C233.6,876.4 225,895.2 230.2,900.9 C235.4,906.6 248.6,895.7 252.8,901.5 C256.9,907.3 245.9,919.9 250.8,929.9 C255.8,939.8 278.8,943.8 277.7,951.2 C276.6,958.6 250.8,959.1 245.2,966.6 C239.6,974.2 253.3,983.6 249.8,988.9 C246.3,994.2 232.4,985.2 227.5,993 C222.5,1000.8 231.7,1024.2 225,1027.7 C218.3,1031.3 205.6,1011.9 194,1010.7 C182.4,1009.5 174,1023.6 167,1021.7 C160,1019.8 166.2,1003.9 159.1,1001.1 C152,998.3 137.1,1013 131.4,1007.8 C125.8,1002.6 135.1,986.4 130.7,975.1 C126.2,963.8 108.9,959.9 109.2,951.2 C109.5,942.5 128.3,940.8 132,931.6 C135.6,922.3 123.1,911.4 127.7,905 C132.2,898.5 147,906.1 154.9,899.3 C162.8,892.6 164.7,876.8 167.2,871.1" fill="#dc6e76" stroke="#dc6e76" stroke-width="18" stroke-linejoin="round" filter="url(#fb6)" opacity="0.92"/>
<defs><linearGradient id="beam" x1="90" y1="805" x2="155" y2="897" gradientUnits="userSpaceOnUse"><stop offset="0" stop-color="#fdf0d0" stop-opacity="0.3"/><stop offset="0.3" stop-color="#fcd868"/><stop offset="0.8" stop-color="#fcd060"/><stop offset="1" stop-color="#f88a30"/></linearGradient></defs>
<path d="M76,816.6 L108.75,802.4 L179.8,873.4 L128.6,916 Z" fill="url(#beam)"/>
<ellipse cx="156" cy="895" rx="26" ry="11" transform="rotate(-40 156 895)" fill="#f87020" filter="url(#fb4)" opacity="0.95"/>
<path d="M108.5,782.5 L100.6,789.2 L104.1,799 L93.9,800.9 L92,811.1 L82.2,807.6 L75.5,815.5 L68.8,807.6 L59,811.1 L57.1,800.9 L46.9,799 L50.4,789.2 L42.5,782.5 L50.4,775.8 L46.9,766 L57.1,764.1 L59,753.9 L68.8,757.4 L75.5,749.5 L82.2,757.4 L92,753.9 L93.9,764.1 L104.1,766 L100.6,775.8 Z" fill="#fcd874" stroke="#fcd874" stroke-width="6" stroke-linejoin="round" filter="url(#fb2)"/>
<path d="M107.5,782.5 L98.7,788.7 L103.2,798.5 L92.5,799.5 L91.5,810.2 L81.7,805.7 L75.5,814.5 L69.3,805.7 L59.5,810.2 L58.5,799.5 L47.8,798.5 L52.3,788.7 L43.5,782.5 L52.3,776.3 L47.8,766.5 L58.5,765.5 L59.5,754.8 L69.3,759.3 L75.5,750.5 L81.7,759.3 L91.5,754.8 L92.5,765.5 L103.2,766.5 L98.7,776.3 Z" fill="#f8c010"/>
<circle cx="75.5" cy="782.5" r="17.5" fill="#fcd45c"/>
<circle cx="75.5" cy="782.5" r="12.2" fill="#b8e9f6"/>
<defs><filter id="lcfz" x="-20%" y="-20%" width="140%" height="140%"><feTurbulence type="fractalNoise" baseFrequency="0.5" numOctaves="2" seed="7"/><feDisplacementMap in="SourceGraphic" scale="5"/></filter><pattern id="lctx" width="7" height="7" patternUnits="userSpaceOnUse" patternTransform="rotate(35)"><rect width="7" height="7" fill="#1c1c1c"/><rect x="0" y="0" width="3" height="2" fill="#484848"/><rect x="3.5" y="3.5" width="2" height="1.5" fill="#484848"/><rect x="4" y="0.5" width="2.2" height="1.6" fill="#101010"/></pattern></defs><path d="M172.4,896.5 L213,896.5 M172.4,896.5 L169.3,877.8 M213,896.5 L237.9,916.8 M213,896.5 L223.9,879.4 M237.9,916.8 L253.5,951.1 M237.9,916.8 L247.3,905.9 M253.5,951.1 L232,978 M253.5,951.1 L270.7,951.1 M232,978 L216,1005.7 M232,978 L244,985 M216,1005.7 L172.4,1001 M216,1005.7 L222.3,1021.3 M172.4,1001 L144.3,994.8 M172.4,1001 L169.3,1015.1 M144.3,994.8 L136.5,951.1 M144.3,994.8 L136.5,1003 M136.5,951.1 L145.9,915.2 M136.5,951.1 L116.2,951.1 M145.9,915.2 L172.4,896.5 M145.9,915.2 L133.4,909 M161.5,918.4 L209.8,921.5 M177,929.3 L209.8,929.3 M209.8,929.3 L209.8,957.4 M209.8,957.4 L183.3,969.8 M183.3,969.8 L172.4,944.9 M172.4,944.9 L177,929.3 M177,944.9 L177,1001 M183.3,976 L232,984 M178.6,994.8 L216,1002 M148,918 L183.3,969.8 M237.9,916.8 L209.8,929.3 M253.5,951.1 L209.8,957.4" stroke="url(#lctx)" stroke-width="11.5" stroke-linecap="round" fill="none" filter="url(#lcfz)"/>
<defs><filter id="rcfz" x="-20%" y="-20%" width="140%" height="140%"><feTurbulence type="fractalNoise" baseFrequency="0.5" numOctaves="2" seed="7"/><feDisplacementMap in="SourceGraphic" scale="5"/></filter><pattern id="rctx" width="7" height="7" patternUnits="userSpaceOnUse" patternTransform="rotate(35)"><rect width="7" height="7" fill="#b050d0"/><rect x="0" y="0" width="3" height="2" fill="#e88cf4"/><rect x="3.5" y="3.5" width="2" height="1.5" fill="#e88cf4"/><rect x="4" y="0.5" width="2.2" height="1.6" fill="#6a2080"/></pattern></defs><path d="M879.4,903.2 C885,902.6 899.4,905.4 907.6,900 C915.8,894.5 912.4,878.2 920.2,875.8 C928,873.4 935.8,888.3 946.7,888 C957.6,887.7 968.3,871.1 974.8,874.4 C981.3,877.6 973.8,898 979,904.1 C984.3,910.1 996.7,898.8 1001,904.5 C1005.3,910.2 994.8,922.6 1000.5,932.5 C1006.1,942.5 1029.2,946.6 1029.2,954.4 C1029.2,962.2 1005.5,963.1 1000.4,971.4 C995.3,979.8 1007.5,990.8 1003.6,996.2 C999.6,1001.7 986.4,992.6 980.7,998.6 C975,1004.6 981.7,1023.3 974.9,1026.3 C968.1,1029.3 957.6,1013.8 946.7,1013.5 C935.7,1013.2 927.3,1026.9 920.1,1024.8 C913,1022.8 918.7,1006.5 910.9,1003.3 C903.2,1000 887,1013.9 881.3,1008.7 C875.6,1003.4 886.5,987.7 882.4,976.8 C878.3,966 860.8,963.3 860.8,954.4 C860.9,945.5 878.9,942.6 882.6,932.3 C886.3,922.1 874.4,909.7 879.4,903.2 C884.4,896.8 899.4,905.4 907.6,900 C915.8,894.5 917.7,880.7 920.2,875.8" fill="#dc6e76" stroke="#dc6e76" stroke-width="18" stroke-linejoin="round" filter="url(#fb6)" opacity="0.92"/><path d="M925.5,899.6 L975.4,899.6 M925.5,899.6 L922.4,882.5 M975.4,899.6 L987.9,919.9 M975.4,899.6 L972.3,880.9 M987.9,919.9 L1003.5,954.2 M987.9,919.9 L995.7,909 M1003.5,954.2 L987.9,985 M1003.5,954.2 L1022.2,954.2 M987.9,985 L972.3,1005.7 M987.9,985 L998,992 M972.3,1005.7 L925.5,999.5 M972.3,1005.7 L972.3,1019.8 M925.5,999.5 L899,997.9 M925.5,999.5 L922.4,1018.2 M899,997.9 L891.2,954.2 M899,997.9 L886.5,1004 M891.2,954.2 L899,913.7 M891.2,954.2 L867.8,954.2 M899,913.7 L925.5,899.6 M899,913.7 L885,907.4 M911.5,921.5 L959.8,923 M931.8,929.3 L978.6,929.3 M925.5,929.3 L925.5,991.7 M1000.4,948 L969.2,1001 M934.9,979.2 L984.8,988.6 M928.6,999.5 L969.2,1005.7 M903.7,919.9 L922.4,966.7 M959.8,923 L978.6,960 M891.2,954.2 L925.5,960" stroke="url(#rctx)" stroke-width="12" stroke-linecap="round" fill="none" filter="url(#rcfz)"/>
<line x1="923" y1="901.8" x2="975.5" y2="901.8" stroke="#9a8a80" stroke-width="7" stroke-linecap="round" opacity="0.8"/>
<path d="M923,900 L925.6,903.6 L928.2,900 L930.9,903.6 L933.5,900 L936.1,903.6 L938.8,900 L941.4,903.6 L944,900 L946.6,903.6 L949.2,900 L951.9,903.6 L954.5,900 L957.1,903.6 L959.8,900 L962.4,903.6 L965,900 L967.6,903.6 L970.2,900 L972.9,903.6 L975.5,900" fill="none" stroke="#22b43c" stroke-width="2.2"/>
<line x1="925.4" y1="931.5" x2="925" y2="990.7" stroke="#9a8a80" stroke-width="7" stroke-linecap="round" opacity="0.8"/>
<path d="M927.2,931.5 L923.6,934.2 L927.2,936.9 L923.5,939.6 L927.1,942.3 L923.5,944.9 L927.1,947.7 L923.5,950.3 L927.1,953 L923.4,955.7 L927,958.4 L923.4,961.1 L927,963.8 L923.4,966.5 L926.9,969.2 L923.3,971.9 L926.9,974.6 L923.3,977.2 L926.9,979.9 L923.3,982.6 L926.8,985.3 L923.2,988 L926.8,990.7" fill="none" stroke="#22b43c" stroke-width="2.2"/>
<line x1="1003.4" y1="950.6" x2="970.3" y2="999.4" stroke="#9a8a80" stroke-width="7" stroke-linecap="round" opacity="0.8"/>
<path d="M1004.9,951.6 L1000.4,951.8 L1001.9,956 L997.4,956.2 L998.9,960.5 L994.4,960.7 L995.9,964.9 L991.4,965.1 L992.9,969.4 L988.4,969.6 L989.8,973.8 L985.4,974 L986.8,978.2 L982.4,978.4 L983.8,982.7 L979.3,982.9 L980.8,987.1 L976.3,987.3 L977.8,991.5 L973.3,991.7 L974.8,996 L970.3,996.2 L971.8,1000.4" fill="none" stroke="#22b43c" stroke-width="2.2"/>
<path d="M929,948.7 L940.7,968.2 L948.5,968.2 L960.2,947.2 L974.3,969 L981.3,969 L989.9,948" fill="none" stroke="#7030a4" stroke-width="5.5" stroke-linejoin="miter"/>
<path d="M932.2,942.5 L951,942.5 M961.8,943.5 L979,943.5" stroke="#7030a4" stroke-width="4.5"/>
<path d="M950,936 L957.5,942.5 L950,949 Z M978,937 L985.5,943.5 L978,950 Z" fill="#7030a4"/>
<circle cx="229.5" cy="977" r="8.5" fill="#f59a9a" filter="url(#fb3)"/><circle cx="229.5" cy="977" r="6.0" fill="#fbd0d0"/><circle cx="229.5" cy="977" r="4.5" fill="#ffffff"/>
<circle cx="902.3" cy="988.1" r="8.5" fill="#f59a9a" filter="url(#fb3)"/><circle cx="902.3" cy="988.1" r="6.0" fill="#fbd0d0"/><circle cx="902.3" cy="988.1" r="4.5" fill="#ffffff"/>
<defs><pattern id="bct" width="10.5" height="10.5" patternUnits="userSpaceOnUse" patternTransform="skewX(-20) scale(1,0.55)"><rect width="10.5" height="10.5" fill="#202020"/><rect x="1.8" y="1.8" width="6.9" height="6.9" rx="2.4" fill="#0e0e0e" stroke="#3a3a3a" stroke-width="1.4"/></pattern><pattern id="bcl" width="10.5" height="10.5" patternUnits="userSpaceOnUse" patternTransform="skewY(8)"><rect width="10.5" height="10.5" fill="#202020"/><rect x="1.8" y="1.8" width="6.9" height="6.9" rx="2.4" fill="#0e0e0e" stroke="#363636" stroke-width="1.4"/></pattern><pattern id="bcr" width="10.5" height="10.5" patternUnits="userSpaceOnUse" patternTransform="skewY(-12)"><rect width="10.5" height="10.5" fill="#202020"/><rect x="1.8" y="1.8" width="6.9" height="6.9" rx="2.4" fill="#0e0e0e" stroke="#4c4c4c" stroke-width="1.4"/></pattern><filter id="bcjag" x="-10%" y="-10%" width="120%" height="120%"><feTurbulence type="fractalNoise" baseFrequency="0.22" numOctaves="2" seed="3"/><feDisplacementMap in="SourceGraphic" scale="6"/></filter></defs><g fill="none" stroke="#f4a0a0" stroke-width="2.8" filter="url(#bcjag)"><ellipse cx="178.4" cy="673.5" rx="4.2" ry="4" transform="rotate(92.4 178.4 673.5)"/><ellipse cx="186.9" cy="671.8" rx="3.2" ry="2.7" transform="rotate(86.3 186.9 671.8)"/><ellipse cx="191.3" cy="667.4" rx="4.5" ry="3.2" transform="rotate(65.8 191.3 667.4)"/><ellipse cx="198.3" cy="665" rx="4.1" ry="3.3" transform="rotate(149.5 198.3 665)"/><ellipse cx="205.5" cy="663" rx="3.5" ry="3.2" transform="rotate(156.6 205.5 663)"/><ellipse cx="210.8" cy="658.9" rx="3.2" ry="2.9" transform="rotate(4.8 210.8 658.9)"/><ellipse cx="215.8" cy="654" rx="4.3" ry="3.6" transform="rotate(158.4 215.8 654)"/><ellipse cx="223.2" cy="653" rx="3.8" ry="3.8" transform="rotate(87.2 223.2 653)"/><ellipse cx="229.4" cy="650.8" rx="3.2" ry="2.3" transform="rotate(86.1 229.4 650.8)"/><ellipse cx="235.3" cy="647.2" rx="2.3" ry="1.3" transform="rotate(41 235.3 647.2)"/><ellipse cx="242.6" cy="648.6" rx="3" ry="1.7" transform="rotate(30 242.6 648.6)"/><ellipse cx="249" cy="645.3" rx="4.7" ry="3.9" transform="rotate(122.4 249 645.3)"/><ellipse cx="255.7" cy="643.7" rx="4.2" ry="3.3" transform="rotate(174.8 255.7 643.7)"/><ellipse cx="262.2" cy="644.5" rx="2.6" ry="2.4" transform="rotate(17.2 262.2 644.5)"/><ellipse cx="268.6" cy="646.5" rx="4.5" ry="3.2" transform="rotate(84.5 268.6 646.5)"/><ellipse cx="275.3" cy="647.3" rx="2.5" ry="1.8" transform="rotate(38.1 275.3 647.3)"/><ellipse cx="280.8" cy="651.9" rx="2.8" ry="2.2" transform="rotate(74.1 280.8 651.9)"/><ellipse cx="287.6" cy="652.9" rx="4.1" ry="4.1" transform="rotate(70.3 287.6 652.9)"/><ellipse cx="294.1" cy="654.6" rx="4.6" ry="3.7" transform="rotate(125 294.1 654.6)"/><ellipse cx="300" cy="657.3" rx="3" ry="1.6" transform="rotate(153 300 657.3)"/><ellipse cx="307.6" cy="657.8" rx="4.1" ry="3.8" transform="rotate(173.2 307.6 657.8)"/><ellipse cx="312.7" cy="661.2" rx="4.2" ry="4" transform="rotate(86.1 312.7 661.2)"/><ellipse cx="319.8" cy="662.5" rx="2.3" ry="1.4" transform="rotate(98.9 319.8 662.5)"/><ellipse cx="325.6" cy="665.1" rx="2.6" ry="2.2" transform="rotate(65.7 325.6 665.1)"/><ellipse cx="332.1" cy="667" rx="3.5" ry="1.8" transform="rotate(3.1 332.1 667)"/><ellipse cx="338.4" cy="669.1" rx="2.7" ry="1.7" transform="rotate(166 338.4 669.1)"/><ellipse cx="341.7" cy="673.4" rx="2.4" ry="2" transform="rotate(159.8 341.7 673.4)"/><ellipse cx="339.9" cy="681" rx="2.8" ry="2.3" transform="rotate(63.9 339.9 681)"/><ellipse cx="341.6" cy="687.1" rx="3.5" ry="2.5" transform="rotate(42.6 341.6 687.1)"/><ellipse cx="337.2" cy="695.3" rx="2.3" ry="1.3" transform="rotate(49.3 337.2 695.3)"/><ellipse cx="339.9" cy="701.4" rx="3.6" ry="3.6" transform="rotate(30 339.9 701.4)"/><ellipse cx="337.9" cy="708.6" rx="3.7" ry="2.5" transform="rotate(146.5 337.9 708.6)"/><ellipse cx="338.1" cy="715.4" rx="4.6" ry="2.8" transform="rotate(46 338.1 715.4)"/><ellipse cx="337.8" cy="722.4" rx="3" ry="2.9" transform="rotate(162.3 337.8 722.4)"/><ellipse cx="337.1" cy="729.3" rx="2.4" ry="2.3" transform="rotate(34.2 337.1 729.3)"/><ellipse cx="336.2" cy="736.2" rx="2.9" ry="2.1" transform="rotate(172.2 336.2 736.2)"/><ellipse cx="337.7" cy="743.6" rx="4.6" ry="4.1" transform="rotate(90.9 337.7 743.6)"/><ellipse cx="333.8" cy="749.4" rx="2.3" ry="2.2" transform="rotate(61.5 333.8 749.4)"/><ellipse cx="334.6" cy="756.7" rx="4.2" ry="4.1" transform="rotate(135.9 334.6 756.7)"/><ellipse cx="330.1" cy="761.8" rx="4.3" ry="3.8" transform="rotate(37.5 330.1 761.8)"/><ellipse cx="325.7" cy="767.5" rx="4.7" ry="4.6" transform="rotate(143.6 325.7 767.5)"/><ellipse cx="316" cy="768.8" rx="4" ry="3" transform="rotate(138.6 316 768.8)"/><ellipse cx="312.5" cy="774.4" rx="2.3" ry="2.1" transform="rotate(55.4 312.5 774.4)"/><ellipse cx="306.1" cy="777.8" rx="3.5" ry="2.7" transform="rotate(43.2 306.1 777.8)"/><ellipse cx="299" cy="780.3" rx="2.7" ry="1.5" transform="rotate(121.4 299 780.3)"/><ellipse cx="291.1" cy="780.9" rx="4.4" ry="4.3" transform="rotate(61.9 291.1 780.9)"/><ellipse cx="286" cy="786.6" rx="3.8" ry="2.9" transform="rotate(88.3 286 786.6)"/><ellipse cx="278.5" cy="787.1" rx="3.5" ry="2.9" transform="rotate(10.5 278.5 787.1)"/><ellipse cx="272.5" cy="791.2" rx="4.3" ry="4.2" transform="rotate(156.6 272.5 791.2)"/><ellipse cx="266" cy="793.9" rx="2.6" ry="2" transform="rotate(176.3 266 793.9)"/><ellipse cx="259.5" cy="792.8" rx="4.7" ry="2.8" transform="rotate(105.4 259.5 792.8)"/><ellipse cx="253" cy="793.6" rx="2.6" ry="1.6" transform="rotate(45.9 253 793.6)"/><ellipse cx="246.8" cy="787.6" rx="3.8" ry="2.4" transform="rotate(136.8 246.8 787.6)"/><ellipse cx="239.9" cy="787.6" rx="4.6" ry="3.6" transform="rotate(2.3 239.9 787.6)"/><ellipse cx="233.5" cy="784.6" rx="3.7" ry="2.4" transform="rotate(104.4 233.5 784.6)"/><ellipse cx="227" cy="782.2" rx="3.7" ry="2.2" transform="rotate(167.7 227 782.2)"/><ellipse cx="219.7" cy="781" rx="4.8" ry="3.2" transform="rotate(15.7 219.7 781)"/><ellipse cx="212.7" cy="779" rx="3.3" ry="3.2" transform="rotate(135.9 212.7 779)"/><ellipse cx="207.5" cy="774.8" rx="3.4" ry="2.8" transform="rotate(110.9 207.5 774.8)"/><ellipse cx="199.2" cy="774.1" rx="4.4" ry="2.3" transform="rotate(171.9 199.2 774.1)"/><ellipse cx="197.3" cy="767.5" rx="2.9" ry="2.3" transform="rotate(109.3 197.3 767.5)"/><ellipse cx="193.6" cy="762.5" rx="3.3" ry="2.6" transform="rotate(87.6 193.6 762.5)"/><ellipse cx="193.4" cy="755" rx="2.7" ry="1.8" transform="rotate(155.2 193.4 755)"/><ellipse cx="190.2" cy="749.3" rx="3.8" ry="3.5" transform="rotate(70.8 190.2 749.3)"/><ellipse cx="187.2" cy="743.4" rx="3.1" ry="2.9" transform="rotate(139.3 187.2 743.4)"/><ellipse cx="187.4" cy="736.2" rx="4" ry="3.2" transform="rotate(121.3 187.4 736.2)"/><ellipse cx="186.3" cy="729.2" rx="2.5" ry="1.4" transform="rotate(98.8 186.3 729.2)"/><ellipse cx="182.6" cy="722.3" rx="3.7" ry="3" transform="rotate(103.6 182.6 722.3)"/><ellipse cx="182.4" cy="715.1" rx="3.7" ry="2.1" transform="rotate(54.8 182.4 715.1)"/><ellipse cx="181.1" cy="707.9" rx="3.2" ry="1.8" transform="rotate(137 181.1 707.9)"/><ellipse cx="179.4" cy="700.5" rx="3.2" ry="2.3" transform="rotate(172.6 179.4 700.5)"/><ellipse cx="179.4" cy="693.6" rx="3.2" ry="2.5" transform="rotate(66.6 179.4 693.6)"/><ellipse cx="176.7" cy="685.8" rx="3.3" ry="2.6" transform="rotate(150.3 176.7 685.8)"/><ellipse cx="177.7" cy="679.6" rx="3.3" ry="2.4" transform="rotate(8.6 177.7 679.6)"/></g><g fill="none" stroke="#1a1a1a" stroke-width="1.6" filter="url(#bcjag)"><ellipse cx="178.4" cy="673.5" rx="4.2" ry="4" transform="rotate(92.4 178.4 673.5)"/><ellipse cx="186.9" cy="671.8" rx="3.2" ry="2.7" transform="rotate(86.3 186.9 671.8)"/><ellipse cx="191.3" cy="667.4" rx="4.5" ry="3.2" transform="rotate(65.8 191.3 667.4)"/><ellipse cx="198.3" cy="665" rx="4.1" ry="3.3" transform="rotate(149.5 198.3 665)"/><ellipse cx="205.5" cy="663" rx="3.5" ry="3.2" transform="rotate(156.6 205.5 663)"/><ellipse cx="210.8" cy="658.9" rx="3.2" ry="2.9" transform="rotate(4.8 210.8 658.9)"/><ellipse cx="215.8" cy="654" rx="4.3" ry="3.6" transform="rotate(158.4 215.8 654)"/><ellipse cx="223.2" cy="653" rx="3.8" ry="3.8" transform="rotate(87.2 223.2 653)"/><ellipse cx="229.4" cy="650.8" rx="3.2" ry="2.3" transform="rotate(86.1 229.4 650.8)"/><ellipse cx="235.3" cy="647.2" rx="2.3" ry="1.3" transform="rotate(41 235.3 647.2)"/><ellipse cx="242.6" cy="648.6" rx="3" ry="1.7" transform="rotate(30 242.6 648.6)"/><ellipse cx="249" cy="645.3" rx="4.7" ry="3.9" transform="rotate(122.4 249 645.3)"/><ellipse cx="255.7" cy="643.7" rx="4.2" ry="3.3" transform="rotate(174.8 255.7 643.7)"/><ellipse cx="262.2" cy="644.5" rx="2.6" ry="2.4" transform="rotate(17.2 262.2 644.5)"/><ellipse cx="268.6" cy="646.5" rx="4.5" ry="3.2" transform="rotate(84.5 268.6 646.5)"/><ellipse cx="275.3" cy="647.3" rx="2.5" ry="1.8" transform="rotate(38.1 275.3 647.3)"/><ellipse cx="280.8" cy="651.9" rx="2.8" ry="2.2" transform="rotate(74.1 280.8 651.9)"/><ellipse cx="287.6" cy="652.9" rx="4.1" ry="4.1" transform="rotate(70.3 287.6 652.9)"/><ellipse cx="294.1" cy="654.6" rx="4.6" ry="3.7" transform="rotate(125 294.1 654.6)"/><ellipse cx="300" cy="657.3" rx="3" ry="1.6" transform="rotate(153 300 657.3)"/><ellipse cx="307.6" cy="657.8" rx="4.1" ry="3.8" transform="rotate(173.2 307.6 657.8)"/><ellipse cx="312.7" cy="661.2" rx="4.2" ry="4" transform="rotate(86.1 312.7 661.2)"/><ellipse cx="319.8" cy="662.5" rx="2.3" ry="1.4" transform="rotate(98.9 319.8 662.5)"/><ellipse cx="325.6" cy="665.1" rx="2.6" ry="2.2" transform="rotate(65.7 325.6 665.1)"/><ellipse cx="332.1" cy="667" rx="3.5" ry="1.8" transform="rotate(3.1 332.1 667)"/><ellipse cx="338.4" cy="669.1" rx="2.7" ry="1.7" transform="rotate(166 338.4 669.1)"/><ellipse cx="341.7" cy="673.4" rx="2.4" ry="2" transform="rotate(159.8 341.7 673.4)"/><ellipse cx="339.9" cy="681" rx="2.8" ry="2.3" transform="rotate(63.9 339.9 681)"/><ellipse cx="341.6" cy="687.1" rx="3.5" ry="2.5" transform="rotate(42.6 341.6 687.1)"/><ellipse cx="337.2" cy="695.3" rx="2.3" ry="1.3" transform="rotate(49.3 337.2 695.3)"/><ellipse cx="339.9" cy="701.4" rx="3.6" ry="3.6" transform="rotate(30 339.9 701.4)"/><ellipse cx="337.9" cy="708.6" rx="3.7" ry="2.5" transform="rotate(146.5 337.9 708.6)"/><ellipse cx="338.1" cy="715.4" rx="4.6" ry="2.8" transform="rotate(46 338.1 715.4)"/><ellipse cx="337.8" cy="722.4" rx="3" ry="2.9" transform="rotate(162.3 337.8 722.4)"/><ellipse cx="337.1" cy="729.3" rx="2.4" ry="2.3" transform="rotate(34.2 337.1 729.3)"/><ellipse cx="336.2" cy="736.2" rx="2.9" ry="2.1" transform="rotate(172.2 336.2 736.2)"/><ellipse cx="337.7" cy="743.6" rx="4.6" ry="4.1" transform="rotate(90.9 337.7 743.6)"/><ellipse cx="333.8" cy="749.4" rx="2.3" ry="2.2" transform="rotate(61.5 333.8 749.4)"/><ellipse cx="334.6" cy="756.7" rx="4.2" ry="4.1" transform="rotate(135.9 334.6 756.7)"/><ellipse cx="330.1" cy="761.8" rx="4.3" ry="3.8" transform="rotate(37.5 330.1 761.8)"/><ellipse cx="325.7" cy="767.5" rx="4.7" ry="4.6" transform="rotate(143.6 325.7 767.5)"/><ellipse cx="316" cy="768.8" rx="4" ry="3" transform="rotate(138.6 316 768.8)"/><ellipse cx="312.5" cy="774.4" rx="2.3" ry="2.1" transform="rotate(55.4 312.5 774.4)"/><ellipse cx="306.1" cy="777.8" rx="3.5" ry="2.7" transform="rotate(43.2 306.1 777.8)"/><ellipse cx="299" cy="780.3" rx="2.7" ry="1.5" transform="rotate(121.4 299 780.3)"/><ellipse cx="291.1" cy="780.9" rx="4.4" ry="4.3" transform="rotate(61.9 291.1 780.9)"/><ellipse cx="286" cy="786.6" rx="3.8" ry="2.9" transform="rotate(88.3 286 786.6)"/><ellipse cx="278.5" cy="787.1" rx="3.5" ry="2.9" transform="rotate(10.5 278.5 787.1)"/><ellipse cx="272.5" cy="791.2" rx="4.3" ry="4.2" transform="rotate(156.6 272.5 791.2)"/><ellipse cx="266" cy="793.9" rx="2.6" ry="2" transform="rotate(176.3 266 793.9)"/><ellipse cx="259.5" cy="792.8" rx="4.7" ry="2.8" transform="rotate(105.4 259.5 792.8)"/><ellipse cx="253" cy="793.6" rx="2.6" ry="1.6" transform="rotate(45.9 253 793.6)"/><ellipse cx="246.8" cy="787.6" rx="3.8" ry="2.4" transform="rotate(136.8 246.8 787.6)"/><ellipse cx="239.9" cy="787.6" rx="4.6" ry="3.6" transform="rotate(2.3 239.9 787.6)"/><ellipse cx="233.5" cy="784.6" rx="3.7" ry="2.4" transform="rotate(104.4 233.5 784.6)"/><ellipse cx="227" cy="782.2" rx="3.7" ry="2.2" transform="rotate(167.7 227 782.2)"/><ellipse cx="219.7" cy="781" rx="4.8" ry="3.2" transform="rotate(15.7 219.7 781)"/><ellipse cx="212.7" cy="779" rx="3.3" ry="3.2" transform="rotate(135.9 212.7 779)"/><ellipse cx="207.5" cy="774.8" rx="3.4" ry="2.8" transform="rotate(110.9 207.5 774.8)"/><ellipse cx="199.2" cy="774.1" rx="4.4" ry="2.3" transform="rotate(171.9 199.2 774.1)"/><ellipse cx="197.3" cy="767.5" rx="2.9" ry="2.3" transform="rotate(109.3 197.3 767.5)"/><ellipse cx="193.6" cy="762.5" rx="3.3" ry="2.6" transform="rotate(87.6 193.6 762.5)"/><ellipse cx="193.4" cy="755" rx="2.7" ry="1.8" transform="rotate(155.2 193.4 755)"/><ellipse cx="190.2" cy="749.3" rx="3.8" ry="3.5" transform="rotate(70.8 190.2 749.3)"/><ellipse cx="187.2" cy="743.4" rx="3.1" ry="2.9" transform="rotate(139.3 187.2 743.4)"/><ellipse cx="187.4" cy="736.2" rx="4" ry="3.2" transform="rotate(121.3 187.4 736.2)"/><ellipse cx="186.3" cy="729.2" rx="2.5" ry="1.4" transform="rotate(98.8 186.3 729.2)"/><ellipse cx="182.6" cy="722.3" rx="3.7" ry="3" transform="rotate(103.6 182.6 722.3)"/><ellipse cx="182.4" cy="715.1" rx="3.7" ry="2.1" transform="rotate(54.8 182.4 715.1)"/><ellipse cx="181.1" cy="707.9" rx="3.2" ry="1.8" transform="rotate(137 181.1 707.9)"/><ellipse cx="179.4" cy="700.5" rx="3.2" ry="2.3" transform="rotate(172.6 179.4 700.5)"/><ellipse cx="179.4" cy="693.6" rx="3.2" ry="2.5" transform="rotate(66.6 179.4 693.6)"/><ellipse cx="176.7" cy="685.8" rx="3.3" ry="2.6" transform="rotate(150.3 176.7 685.8)"/><ellipse cx="177.7" cy="679.6" rx="3.3" ry="2.4" transform="rotate(8.6 177.7 679.6)"/></g><g filter="url(#bcjag)"><path d="M177,676 L226,651 L259,645 L340,671 L334,760 L320,768 L262.8,795 L198,771 L187,740 Z" fill="none" stroke="#f4a0a0" stroke-width="3.5" stroke-linejoin="round"/><path d="M177,676 L262.8,685 L262.8,795 L198,771 L187,740 Z" fill="url(#bcl)"/><path d="M262.8,685 L340,671 L334,760 L320,768 L262.8,795 Z" fill="url(#bcr)"/><path d="M177,676 L226,651 L259,645 L340,671 L262.8,685 Z" fill="url(#bct)"/></g>
<defs><pattern id="pct" width="11" height="11" patternUnits="userSpaceOnUse" patternTransform="skewX(-20) scale(1,0.55)"><rect width="11" height="11" fill="#b454d4"/><rect x="1.8" y="1.8" width="7.4" height="7.4" rx="2.4" fill="#5a1a72" stroke="#ee9cf8" stroke-width="1.4"/></pattern><pattern id="pcl" width="11" height="11" patternUnits="userSpaceOnUse" patternTransform="skewY(8)"><rect width="11" height="11" fill="#9a40bc"/><rect x="1.8" y="1.8" width="7.4" height="7.4" rx="2.4" fill="#5a1a72" stroke="#d47ae8" stroke-width="1.4"/></pattern><pattern id="pcr" width="11" height="11" patternUnits="userSpaceOnUse" patternTransform="skewY(-12)"><rect width="11" height="11" fill="#a84ccc"/><rect x="1.8" y="1.8" width="7.4" height="7.4" rx="2.4" fill="#5a1a72" stroke="#e890f6" stroke-width="1.4"/></pattern><filter id="pcjag" x="-10%" y="-10%" width="120%" height="120%"><feTurbulence type="fractalNoise" baseFrequency="0.22" numOctaves="2" seed="3"/><feDisplacementMap in="SourceGraphic" scale="6"/></filter></defs><g fill="none" stroke="#f0a0a0" stroke-width="2.8" filter="url(#pcjag)"><ellipse cx="776.3" cy="675.9" rx="3.8" ry="2.2" transform="rotate(110.2 776.3 675.9)"/><ellipse cx="782.4" cy="672.8" rx="3.9" ry="3.5" transform="rotate(87.9 782.4 672.8)"/><ellipse cx="786.9" cy="668.5" rx="3.3" ry="1.7" transform="rotate(4.6 786.9 668.5)"/><ellipse cx="793.8" cy="665.9" rx="3.7" ry="3.6" transform="rotate(160.6 793.8 665.9)"/><ellipse cx="798.7" cy="661.6" rx="3.6" ry="3.5" transform="rotate(68.6 798.7 661.6)"/><ellipse cx="805.9" cy="659.7" rx="2.9" ry="2.9" transform="rotate(13.1 805.9 659.7)"/><ellipse cx="811.3" cy="655.6" rx="4.2" ry="2.1" transform="rotate(160.6 811.3 655.6)"/><ellipse cx="816.3" cy="650.7" rx="4.6" ry="4.3" transform="rotate(57.2 816.3 650.7)"/><ellipse cx="822.7" cy="647.8" rx="4.2" ry="3.9" transform="rotate(109.5 822.7 647.8)"/><ellipse cx="830.5" cy="648.1" rx="3" ry="2.9" transform="rotate(43.3 830.5 648.1)"/><ellipse cx="837" cy="644.7" rx="2.2" ry="1.4" transform="rotate(54.5 837 644.7)"/><ellipse cx="844.4" cy="644.8" rx="2.9" ry="2.1" transform="rotate(4.5 844.4 644.8)"/><ellipse cx="851.6" cy="644.1" rx="4.3" ry="3.8" transform="rotate(168.5 851.6 644.1)"/><ellipse cx="858.1" cy="643.2" rx="3.6" ry="3.5" transform="rotate(79.5 858.1 643.2)"/><ellipse cx="864.4" cy="644" rx="2.4" ry="1.8" transform="rotate(145.3 864.4 644)"/><ellipse cx="870.7" cy="645.6" rx="3.7" ry="2.8" transform="rotate(79.5 870.7 645.6)"/><ellipse cx="877" cy="648.1" rx="3.5" ry="2.7" transform="rotate(152.3 877 648.1)"/><ellipse cx="882.8" cy="651.4" rx="3.1" ry="2.1" transform="rotate(11.2 882.8 651.4)"/><ellipse cx="889" cy="653.4" rx="3.9" ry="2.1" transform="rotate(159.5 889 653.4)"/><ellipse cx="896" cy="653.9" rx="3" ry="2.4" transform="rotate(11.7 896 653.9)"/><ellipse cx="903" cy="655.1" rx="4.5" ry="2.4" transform="rotate(108.4 903 655.1)"/><ellipse cx="907.1" cy="660.1" rx="4.3" ry="3.3" transform="rotate(133.1 907.1 660.1)"/><ellipse cx="915.1" cy="660" rx="3.2" ry="1.8" transform="rotate(160 915.1 660)"/><ellipse cx="921.6" cy="661.9" rx="2.7" ry="2.4" transform="rotate(6.2 921.6 661.9)"/><ellipse cx="926.6" cy="665.1" rx="2.5" ry="2.1" transform="rotate(86.2 926.6 665.1)"/><ellipse cx="934" cy="666.3" rx="3" ry="1.6" transform="rotate(176.5 934 666.3)"/><ellipse cx="937.9" cy="670" rx="3.5" ry="3.2" transform="rotate(106.7 937.9 670)"/><ellipse cx="941" cy="674.4" rx="2.4" ry="1.8" transform="rotate(145.5 941 674.4)"/><ellipse cx="942.6" cy="680.5" rx="3.4" ry="2.2" transform="rotate(3.1 942.6 680.5)"/><ellipse cx="943.5" cy="687.2" rx="3.5" ry="2.3" transform="rotate(150.2 943.5 687.2)"/><ellipse cx="942.4" cy="694.7" rx="4" ry="2.9" transform="rotate(160.7 942.4 694.7)"/><ellipse cx="941.1" cy="702.2" rx="4.2" ry="2.5" transform="rotate(129.5 941.1 702.2)"/><ellipse cx="941.4" cy="709.1" rx="2.5" ry="2.2" transform="rotate(161.6 941.4 709.1)"/><ellipse cx="939.2" cy="716.4" rx="2.3" ry="2.2" transform="rotate(29.9 939.2 716.4)"/><ellipse cx="938.7" cy="723.3" rx="4.6" ry="3.1" transform="rotate(98.5 938.7 723.3)"/><ellipse cx="941.1" cy="730.5" rx="2.3" ry="1.8" transform="rotate(126 941.1 730.5)"/><ellipse cx="941" cy="737.7" rx="4.2" ry="3.9" transform="rotate(153.3 941 737.7)"/><ellipse cx="939.1" cy="745" rx="3.8" ry="3.3" transform="rotate(72.4 939.1 745)"/><ellipse cx="940.8" cy="754" rx="3.4" ry="3" transform="rotate(40.7 940.8 754)"/><ellipse cx="939.8" cy="762.1" rx="4" ry="4" transform="rotate(170.1 939.8 762.1)"/><ellipse cx="937.1" cy="768.2" rx="3.6" ry="1.9" transform="rotate(137.3 937.1 768.2)"/><ellipse cx="929.4" cy="770.4" rx="4.1" ry="2.8" transform="rotate(31 929.4 770.4)"/><ellipse cx="923.2" cy="773.3" rx="2.8" ry="2.1" transform="rotate(103.3 923.2 773.3)"/><ellipse cx="919" cy="778" rx="3.3" ry="1.8" transform="rotate(15.2 919 778)"/><ellipse cx="913.2" cy="781.5" rx="2.5" ry="2.4" transform="rotate(118.9 913.2 781.5)"/><ellipse cx="906" cy="783.1" rx="2.3" ry="1.6" transform="rotate(100.6 906 783.1)"/><ellipse cx="900.4" cy="786.6" rx="3.8" ry="3.4" transform="rotate(71.7 900.4 786.6)"/><ellipse cx="895.7" cy="791.8" rx="3.9" ry="2" transform="rotate(160.9 895.7 791.8)"/><ellipse cx="889.8" cy="795.2" rx="3.1" ry="3.1" transform="rotate(124.6 889.8 795.2)"/><ellipse cx="882.8" cy="798.6" rx="3.7" ry="2.3" transform="rotate(83.8 882.8 798.6)"/><ellipse cx="874.5" cy="800.3" rx="4.8" ry="4.4" transform="rotate(107 874.5 800.3)"/><ellipse cx="866.9" cy="804.9" rx="3" ry="2.1" transform="rotate(84.3 866.9 804.9)"/><ellipse cx="859.9" cy="803.1" rx="3" ry="2.7" transform="rotate(135.2 859.9 803.1)"/><ellipse cx="853.6" cy="802.4" rx="2.8" ry="2" transform="rotate(18.1 853.6 802.4)"/><ellipse cx="847.3" cy="800" rx="3.1" ry="2.9" transform="rotate(10.9 847.3 800)"/><ellipse cx="840.9" cy="797.4" rx="2.3" ry="2.1" transform="rotate(44.7 840.9 797.4)"/><ellipse cx="835.3" cy="792.6" rx="3.3" ry="2.5" transform="rotate(80.4 835.3 792.6)"/><ellipse cx="828.1" cy="792.3" rx="3.8" ry="3.7" transform="rotate(133.9 828.1 792.3)"/><ellipse cx="821.7" cy="789.7" rx="2.3" ry="1.2" transform="rotate(125.1 821.7 789.7)"/><ellipse cx="816.3" cy="785.6" rx="2.8" ry="1.8" transform="rotate(62.3 816.3 785.6)"/><ellipse cx="810.8" cy="782" rx="4.7" ry="3.8" transform="rotate(62.9 810.8 782)"/><ellipse cx="803.6" cy="780.4" rx="2.5" ry="1.6" transform="rotate(40.8 803.6 780.4)"/><ellipse cx="795.6" cy="779.3" rx="2.4" ry="2.1" transform="rotate(90.3 795.6 779.3)"/><ellipse cx="791.1" cy="775" rx="2.8" ry="2.5" transform="rotate(134.9 791.1 775)"/><ellipse cx="785.9" cy="771.3" rx="4" ry="3.1" transform="rotate(165.7 785.9 771.3)"/><ellipse cx="784.9" cy="764.4" rx="3.8" ry="2" transform="rotate(8.9 784.9 764.4)"/><ellipse cx="785.9" cy="756.6" rx="3.8" ry="3.7" transform="rotate(71.4 785.9 756.6)"/><ellipse cx="782.6" cy="750.8" rx="3.1" ry="1.6" transform="rotate(141.5 782.6 750.8)"/><ellipse cx="780.3" cy="744.4" rx="2.5" ry="2.2" transform="rotate(138.6 780.3 744.4)"/><ellipse cx="779.4" cy="737.5" rx="3.4" ry="2.7" transform="rotate(85.5 779.4 737.5)"/><ellipse cx="779.5" cy="730.6" rx="4.4" ry="3.9" transform="rotate(75.4 779.5 730.6)"/><ellipse cx="776.9" cy="723.9" rx="3.7" ry="2" transform="rotate(84.8 776.9 723.9)"/><ellipse cx="778.6" cy="717.2" rx="3" ry="1.6" transform="rotate(97.6 778.6 717.2)"/><ellipse cx="777.6" cy="710.7" rx="3.4" ry="3.3" transform="rotate(17.5 777.6 710.7)"/><ellipse cx="773.3" cy="703.5" rx="3.1" ry="1.9" transform="rotate(161.3 773.3 703.5)"/><ellipse cx="774.8" cy="696.8" rx="3.2" ry="2.8" transform="rotate(86.3 774.8 696.8)"/><ellipse cx="774.1" cy="689.1" rx="2.3" ry="1.7" transform="rotate(80 774.1 689.1)"/><ellipse cx="773.1" cy="681.1" rx="4.2" ry="3.2" transform="rotate(115.5 773.1 681.1)"/></g><g fill="none" stroke="#c068d8" stroke-width="1.6" filter="url(#pcjag)"><ellipse cx="776.3" cy="675.9" rx="3.8" ry="2.2" transform="rotate(110.2 776.3 675.9)"/><ellipse cx="782.4" cy="672.8" rx="3.9" ry="3.5" transform="rotate(87.9 782.4 672.8)"/><ellipse cx="786.9" cy="668.5" rx="3.3" ry="1.7" transform="rotate(4.6 786.9 668.5)"/><ellipse cx="793.8" cy="665.9" rx="3.7" ry="3.6" transform="rotate(160.6 793.8 665.9)"/><ellipse cx="798.7" cy="661.6" rx="3.6" ry="3.5" transform="rotate(68.6 798.7 661.6)"/><ellipse cx="805.9" cy="659.7" rx="2.9" ry="2.9" transform="rotate(13.1 805.9 659.7)"/><ellipse cx="811.3" cy="655.6" rx="4.2" ry="2.1" transform="rotate(160.6 811.3 655.6)"/><ellipse cx="816.3" cy="650.7" rx="4.6" ry="4.3" transform="rotate(57.2 816.3 650.7)"/><ellipse cx="822.7" cy="647.8" rx="4.2" ry="3.9" transform="rotate(109.5 822.7 647.8)"/><ellipse cx="830.5" cy="648.1" rx="3" ry="2.9" transform="rotate(43.3 830.5 648.1)"/><ellipse cx="837" cy="644.7" rx="2.2" ry="1.4" transform="rotate(54.5 837 644.7)"/><ellipse cx="844.4" cy="644.8" rx="2.9" ry="2.1" transform="rotate(4.5 844.4 644.8)"/><ellipse cx="851.6" cy="644.1" rx="4.3" ry="3.8" transform="rotate(168.5 851.6 644.1)"/><ellipse cx="858.1" cy="643.2" rx="3.6" ry="3.5" transform="rotate(79.5 858.1 643.2)"/><ellipse cx="864.4" cy="644" rx="2.4" ry="1.8" transform="rotate(145.3 864.4 644)"/><ellipse cx="870.7" cy="645.6" rx="3.7" ry="2.8" transform="rotate(79.5 870.7 645.6)"/><ellipse cx="877" cy="648.1" rx="3.5" ry="2.7" transform="rotate(152.3 877 648.1)"/><ellipse cx="882.8" cy="651.4" rx="3.1" ry="2.1" transform="rotate(11.2 882.8 651.4)"/><ellipse cx="889" cy="653.4" rx="3.9" ry="2.1" transform="rotate(159.5 889 653.4)"/><ellipse cx="896" cy="653.9" rx="3" ry="2.4" transform="rotate(11.7 896 653.9)"/><ellipse cx="903" cy="655.1" rx="4.5" ry="2.4" transform="rotate(108.4 903 655.1)"/><ellipse cx="907.1" cy="660.1" rx="4.3" ry="3.3" transform="rotate(133.1 907.1 660.1)"/><ellipse cx="915.1" cy="660" rx="3.2" ry="1.8" transform="rotate(160 915.1 660)"/><ellipse cx="921.6" cy="661.9" rx="2.7" ry="2.4" transform="rotate(6.2 921.6 661.9)"/><ellipse cx="926.6" cy="665.1" rx="2.5" ry="2.1" transform="rotate(86.2 926.6 665.1)"/><ellipse cx="934" cy="666.3" rx="3" ry="1.6" transform="rotate(176.5 934 666.3)"/><ellipse cx="937.9" cy="670" rx="3.5" ry="3.2" transform="rotate(106.7 937.9 670)"/><ellipse cx="941" cy="674.4" rx="2.4" ry="1.8" transform="rotate(145.5 941 674.4)"/><ellipse cx="942.6" cy="680.5" rx="3.4" ry="2.2" transform="rotate(3.1 942.6 680.5)"/><ellipse cx="943.5" cy="687.2" rx="3.5" ry="2.3" transform="rotate(150.2 943.5 687.2)"/><ellipse cx="942.4" cy="694.7" rx="4" ry="2.9" transform="rotate(160.7 942.4 694.7)"/><ellipse cx="941.1" cy="702.2" rx="4.2" ry="2.5" transform="rotate(129.5 941.1 702.2)"/><ellipse cx="941.4" cy="709.1" rx="2.5" ry="2.2" transform="rotate(161.6 941.4 709.1)"/><ellipse cx="939.2" cy="716.4" rx="2.3" ry="2.2" transform="rotate(29.9 939.2 716.4)"/><ellipse cx="938.7" cy="723.3" rx="4.6" ry="3.1" transform="rotate(98.5 938.7 723.3)"/><ellipse cx="941.1" cy="730.5" rx="2.3" ry="1.8" transform="rotate(126 941.1 730.5)"/><ellipse cx="941" cy="737.7" rx="4.2" ry="3.9" transform="rotate(153.3 941 737.7)"/><ellipse cx="939.1" cy="745" rx="3.8" ry="3.3" transform="rotate(72.4 939.1 745)"/><ellipse cx="940.8" cy="754" rx="3.4" ry="3" transform="rotate(40.7 940.8 754)"/><ellipse cx="939.8" cy="762.1" rx="4" ry="4" transform="rotate(170.1 939.8 762.1)"/><ellipse cx="937.1" cy="768.2" rx="3.6" ry="1.9" transform="rotate(137.3 937.1 768.2)"/><ellipse cx="929.4" cy="770.4" rx="4.1" ry="2.8" transform="rotate(31 929.4 770.4)"/><ellipse cx="923.2" cy="773.3" rx="2.8" ry="2.1" transform="rotate(103.3 923.2 773.3)"/><ellipse cx="919" cy="778" rx="3.3" ry="1.8" transform="rotate(15.2 919 778)"/><ellipse cx="913.2" cy="781.5" rx="2.5" ry="2.4" transform="rotate(118.9 913.2 781.5)"/><ellipse cx="906" cy="783.1" rx="2.3" ry="1.6" transform="rotate(100.6 906 783.1)"/><ellipse cx="900.4" cy="786.6" rx="3.8" ry="3.4" transform="rotate(71.7 900.4 786.6)"/><ellipse cx="895.7" cy="791.8" rx="3.9" ry="2" transform="rotate(160.9 895.7 791.8)"/><ellipse cx="889.8" cy="795.2" rx="3.1" ry="3.1" transform="rotate(124.6 889.8 795.2)"/><ellipse cx="882.8" cy="798.6" rx="3.7" ry="2.3" transform="rotate(83.8 882.8 798.6)"/><ellipse cx="874.5" cy="800.3" rx="4.8" ry="4.4" transform="rotate(107 874.5 800.3)"/><ellipse cx="866.9" cy="804.9" rx="3" ry="2.1" transform="rotate(84.3 866.9 804.9)"/><ellipse cx="859.9" cy="803.1" rx="3" ry="2.7" transform="rotate(135.2 859.9 803.1)"/><ellipse cx="853.6" cy="802.4" rx="2.8" ry="2" transform="rotate(18.1 853.6 802.4)"/><ellipse cx="847.3" cy="800" rx="3.1" ry="2.9" transform="rotate(10.9 847.3 800)"/><ellipse cx="840.9" cy="797.4" rx="2.3" ry="2.1" transform="rotate(44.7 840.9 797.4)"/><ellipse cx="835.3" cy="792.6" rx="3.3" ry="2.5" transform="rotate(80.4 835.3 792.6)"/><ellipse cx="828.1" cy="792.3" rx="3.8" ry="3.7" transform="rotate(133.9 828.1 792.3)"/><ellipse cx="821.7" cy="789.7" rx="2.3" ry="1.2" transform="rotate(125.1 821.7 789.7)"/><ellipse cx="816.3" cy="785.6" rx="2.8" ry="1.8" transform="rotate(62.3 816.3 785.6)"/><ellipse cx="810.8" cy="782" rx="4.7" ry="3.8" transform="rotate(62.9 810.8 782)"/><ellipse cx="803.6" cy="780.4" rx="2.5" ry="1.6" transform="rotate(40.8 803.6 780.4)"/><ellipse cx="795.6" cy="779.3" rx="2.4" ry="2.1" transform="rotate(90.3 795.6 779.3)"/><ellipse cx="791.1" cy="775" rx="2.8" ry="2.5" transform="rotate(134.9 791.1 775)"/><ellipse cx="785.9" cy="771.3" rx="4" ry="3.1" transform="rotate(165.7 785.9 771.3)"/><ellipse cx="784.9" cy="764.4" rx="3.8" ry="2" transform="rotate(8.9 784.9 764.4)"/><ellipse cx="785.9" cy="756.6" rx="3.8" ry="3.7" transform="rotate(71.4 785.9 756.6)"/><ellipse cx="782.6" cy="750.8" rx="3.1" ry="1.6" transform="rotate(141.5 782.6 750.8)"/><ellipse cx="780.3" cy="744.4" rx="2.5" ry="2.2" transform="rotate(138.6 780.3 744.4)"/><ellipse cx="779.4" cy="737.5" rx="3.4" ry="2.7" transform="rotate(85.5 779.4 737.5)"/><ellipse cx="779.5" cy="730.6" rx="4.4" ry="3.9" transform="rotate(75.4 779.5 730.6)"/><ellipse cx="776.9" cy="723.9" rx="3.7" ry="2" transform="rotate(84.8 776.9 723.9)"/><ellipse cx="778.6" cy="717.2" rx="3" ry="1.6" transform="rotate(97.6 778.6 717.2)"/><ellipse cx="777.6" cy="710.7" rx="3.4" ry="3.3" transform="rotate(17.5 777.6 710.7)"/><ellipse cx="773.3" cy="703.5" rx="3.1" ry="1.9" transform="rotate(161.3 773.3 703.5)"/><ellipse cx="774.8" cy="696.8" rx="3.2" ry="2.8" transform="rotate(86.3 774.8 696.8)"/><ellipse cx="774.1" cy="689.1" rx="2.3" ry="1.7" transform="rotate(80 774.1 689.1)"/><ellipse cx="773.1" cy="681.1" rx="4.2" ry="3.2" transform="rotate(115.5 773.1 681.1)"/></g><g filter="url(#pcjag)"><path d="M773.2,677.5 L826.7,648.3 L855,642.2 L941.7,670.5 L939.7,741 L937.7,765.3 L886,794.7 L863,805.7 L788.3,773.4 L775.2,700.7 Z" fill="none" stroke="#f0a0a0" stroke-width="3.5" stroke-linejoin="round"/><path d="M773.2,677.5 L863,686.6 L863,805.7 L788.3,773.4 L775.2,700.7 Z" fill="url(#pcl)"/><path d="M863,686.6 L941.7,670.5 L939.7,741 L937.7,765.3 L886,794.7 L863,805.7 Z" fill="url(#pcr)"/><path d="M773.2,677.5 L826.7,648.3 L855,642.2 L941.7,670.5 L863,686.6 Z" fill="url(#pct)"/></g>
<line x1="214" y1="772" x2="183" y2="880" stroke="#f49aa0" stroke-width="2.6" stroke-linecap="round"/><line x1="214" y1="772" x2="183" y2="880" stroke="#fbd6d6" stroke-width="0.9" stroke-linecap="round"/>
<line x1="222" y1="772" x2="208" y2="876" stroke="#f49aa0" stroke-width="2.6" stroke-linecap="round"/><line x1="222" y1="772" x2="208" y2="876" stroke="#fbd6d6" stroke-width="0.9" stroke-linecap="round"/>
<line x1="919" y1="773" x2="933.7" y2="880" stroke="#f49aa0" stroke-width="2.6" stroke-linecap="round"/><line x1="919" y1="773" x2="933.7" y2="880" stroke="#fbd6d6" stroke-width="0.9" stroke-linecap="round"/>
<line x1="927" y1="773" x2="959" y2="876.6" stroke="#f49aa0" stroke-width="2.6" stroke-linecap="round"/><line x1="927" y1="773" x2="959" y2="876.6" stroke="#fbd6d6" stroke-width="0.9" stroke-linecap="round"/>
<circle cx="216.9" cy="768.5" r="9.5" fill="#f59a9a" filter="url(#fb3)"/><circle cx="216.9" cy="768.5" r="7.0" fill="#fbd0d0"/><circle cx="216.9" cy="768.5" r="5.5" fill="#ffffff"/>
<circle cx="923.6" cy="759" r="9.5" fill="#f59a9a" filter="url(#fb3)"/><circle cx="923.6" cy="759" r="7.0" fill="#fbd0d0"/><circle cx="923.6" cy="759" r="5.5" fill="#ffffff"/>
<defs><linearGradient id="parr" x1="0" y1="878" x2="0" y2="927" gradientUnits="userSpaceOnUse"><stop offset="0" stop-color="#fcbcf8"/><stop offset="0.33" stop-color="#f9a6f4"/><stop offset="0.67" stop-color="#f890f0"/><stop offset="1" stop-color="#f670ec"/></linearGradient><linearGradient id="psh" x1="0" y1="894.5" x2="0" y2="910.5" gradientUnits="userSpaceOnUse"><stop offset="0" stop-color="#f8b0f6"/><stop offset="1" stop-color="#f48ae8"/></linearGradient><linearGradient id="garr" x1="0" y1="910" x2="0" y2="961" gradientUnits="userSpaceOnUse"><stop offset="0" stop-color="#a8a8a8"/><stop offset="0.33" stop-color="#8a8a8a"/><stop offset="0.67" stop-color="#606060"/><stop offset="1" stop-color="#3a3a3a"/></linearGradient><linearGradient id="gsh" x1="0" y1="927.5" x2="0" y2="943.5" gradientUnits="userSpaceOnUse"><stop offset="0" stop-color="#9a9a9a"/><stop offset="0.5" stop-color="#707070"/><stop offset="1" stop-color="#4a4a4a"/></linearGradient></defs>
<path d="M458.3,894.3 L699.7,894.3 L689.1,878.1 L738.3,902.4 L689.1,927.6 L699.7,911 L458.3,911 Z" fill="url(#parr)"/>
<path d="M614.3,927.5 L381.3,927.5 L392.7,910.6 L342.2,935.7 L392.2,960.6 L381.3,943.5 L614.3,943.5 Z" fill="url(#garr)"/>
<path d="M413.4,943.6 L431.4,943.6 Q422,948 416.5,956.5 L419.5,958.6 L406.3,969.5 L401.5,953.4 L406,955.5 Q409,948 413.4,943.6 Z" fill="#f40808"/>
<text x="227.5" y="850" font-size="22.1" fill="#c63c4e" text-anchor="start" >Enhanced photon absorption</text>
<text x="726.8" y="855.5" font-size="22.3" fill="#7a2aa2" text-anchor="start" >Multiple reflection</text>
<text x="458.3" y="887.2" font-size="24.4" fill="#f884f0" text-anchor="start" >Energy storage</text>
<text x="459.3" y="966" font-size="24.5" fill="#383838" text-anchor="start" >Energy release</text>
<text x="384.6" y="987.4" font-size="21.4" fill="#f01818" text-anchor="start" >Heat</text>
<text x="650" y="979" font-size="22.1" fill="#22a450" text-anchor="start" >Fast phonon transfer</text>
<text x="389.5" y="1164" font-size="21.9" fill="#111" text-anchor="middle" >PW in solid</text>
<text x="390" y="1190" font-size="22.4" fill="#111" text-anchor="middle" >(wrapped in CMF@Co-N/C)</text>
<text x="712.5" y="1165" font-size="21.9" fill="#111" text-anchor="middle" >PW in liquid</text>
<text x="713" y="1190" font-size="22.4" fill="#111" text-anchor="middle" >(wrapped in CMF@Co-N/C)</text>
<text x="943" y="1145.6" font-size="21" fill="#1a6cc0" text-anchor="middle" >Co</text>
<text x="939.8" y="1172.4" font-size="22" fill="#1a6cc0" text-anchor="middle" >LSPR effect</text>
<line x1="229" y1="977" x2="380" y2="1006" stroke="#7a8a90" stroke-width="3.2"/><line x1="229" y1="977" x2="380" y2="1006" stroke="#ffffff" stroke-width="1.3"/>
<line x1="229" y1="977" x2="325" y2="1122" stroke="#7a8a90" stroke-width="3.2"/><line x1="229" y1="977" x2="325" y2="1122" stroke="#ffffff" stroke-width="1.3"/>
<line x1="902" y1="988" x2="710" y2="1009" stroke="#e8a8e8" stroke-width="3.2"/><line x1="902" y1="988" x2="710" y2="1009" stroke="#ffffff" stroke-width="1.3"/>
<line x1="902" y1="988" x2="777" y2="1110" stroke="#e8a8e8" stroke-width="3.2"/><line x1="902" y1="988" x2="777" y2="1110" stroke="#ffffff" stroke-width="1.3"/>
<rect x="324.7" y="1006.4" width="132.3" height="128" rx="17" fill="none" stroke="#6a7e88" stroke-width="7" filter="url(#fb2)"/><rect x="324.7" y="1006.4" width="132.3" height="128" rx="17" fill="#ffffff" fill-opacity="0.12" stroke="#ffffff" stroke-width="2.6"/><path d="M371.4,1016 L410.3,1016 L410,1059 L444,1079 L444,1120 L384.4,1093.8 L337.7,1123 L337.7,1078 L370.5,1059 Z" fill="none" stroke="#f07070" stroke-width="7" stroke-linejoin="round" filter="url(#fb2)"/><defs><filter id="ib1fz" x="-10%" y="-10%" width="120%" height="120%"><feTurbulence type="fractalNoise" baseFrequency="0.35" numOctaves="2" seed="11"/><feDisplacementMap in="SourceGraphic" scale="5"/></filter><pattern id="ib1pt" width="18" height="18" patternUnits="userSpaceOnUse"><rect width="18" height="18" fill="#222222"/><rect x="9" y="15.3" width="5.1" height="1.3" fill="#4a4a4a" transform="rotate(-50.3 9 15.3)"/><rect x="12.8" y="15" width="6.9" height="1.5" fill="#101010" transform="rotate(9.6 12.8 15)"/><rect x="12.3" y="16.8" width="5.4" height="1.4" fill="#4a4a4a" transform="rotate(48.3 12.3 16.8)"/><rect x="6.1" y="10.4" width="3.1" height="1.4" fill="#101010" transform="rotate(50.8 6.1 10.4)"/><rect x="11.5" y="16.2" width="6.2" height="1.6" fill="#4a4a4a" transform="rotate(-53.3 11.5 16.2)"/><rect x="9.7" y="13" width="4.3" height="2.2" fill="#101010" transform="rotate(-8.6 9.7 13)"/><rect x="13.8" y="15.1" width="6.5" height="2.3" fill="#4a4a4a" transform="rotate(49.3 13.8 15.1)"/><rect x="16.1" y="4.2" width="3.4" height="1.4" fill="#101010" transform="rotate(35.8 16.1 4.2)"/><rect x="0.6" y="16.3" width="4.5" height="2.1" fill="#4a4a4a" transform="rotate(-3.6 0.6 16.3)"/><rect x="6.3" y="8.4" width="3.3" height="1.3" fill="#101010" transform="rotate(32.9 6.3 8.4)"/><rect x="8.2" y="5.7" width="6.8" height="2.3" fill="#4a4a4a" transform="rotate(-2.6 8.2 5.7)"/><rect x="3.6" y="9.9" width="5.7" height="2.3" fill="#101010" transform="rotate(-12.1 3.6 9.9)"/><rect x="15.2" y="16.7" width="3.7" height="2.1" fill="#4a4a4a" transform="rotate(9.7 15.2 16.7)"/><rect x="10.2" y="16.9" width="3.5" height="2.2" fill="#101010" transform="rotate(-31.3 10.2 16.9)"/></pattern></defs><path d="M371.4,1016 L410.3,1016 L410,1059 L444,1079 L444,1120 L384.4,1093.8 L337.7,1123 L337.7,1078 L370.5,1059 Z" fill="url(#ib1pt)" filter="url(#ib1fz)"/>
<rect x="645" y="1010" width="132.5" height="127.5" rx="17" fill="none" stroke="#e8b0e8" stroke-width="7" filter="url(#fb2)"/><rect x="645" y="1010" width="132.5" height="127.5" rx="17" fill="#ffffff" fill-opacity="0.12" stroke="#ffffff" stroke-width="2.6"/><path d="M691.4,1019 L730.3,1019 L730,1062 L764,1082 L764,1123 L704.4,1096.8 L657.7,1126 L657.7,1081 L690.5,1062 Z" fill="none" stroke="#f07060" stroke-width="7" stroke-linejoin="round" filter="url(#fb2)"/><defs><filter id="ib2fz" x="-10%" y="-10%" width="120%" height="120%"><feTurbulence type="fractalNoise" baseFrequency="0.35" numOctaves="2" seed="11"/><feDisplacementMap in="SourceGraphic" scale="5"/></filter><pattern id="ib2pt" width="18" height="18" patternUnits="userSpaceOnUse"><rect width="18" height="18" fill="#b050d0"/><rect x="5.7" y="9.8" width="6.8" height="1.3" fill="#e292f4" transform="rotate(47.7 5.7 9.8)"/><rect x="16.4" y="0.9" width="4.6" height="1.5" fill="#6a2080" transform="rotate(-6.8 16.4 0.9)"/><rect x="2.5" y="13.5" width="6.5" height="1.9" fill="#e292f4" transform="rotate(22.4 2.5 13.5)"/><rect x="0.8" y="15.1" width="4.4" height="2.1" fill="#6a2080" transform="rotate(1.8 0.8 15.1)"/><rect x="10.4" y="0" width="3.7" height="2.1" fill="#e292f4" transform="rotate(-16.9 10.4 0)"/><rect x="15.1" y="4.7" width="6.1" height="1.4" fill="#6a2080" transform="rotate(-22.1 15.1 4.7)"/><rect x="14.9" y="1.6" width="3.9" height="1.8" fill="#e292f4" transform="rotate(26.8 14.9 1.6)"/><rect x="12.2" y="13.9" width="5.9" height="1.9" fill="#6a2080" transform="rotate(-28.8 12.2 13.9)"/><rect x="13.9" y="1.8" width="5.1" height="1.8" fill="#e292f4" transform="rotate(-4.5 13.9 1.8)"/><rect x="13.3" y="11.4" width="3.9" height="1.8" fill="#6a2080" transform="rotate(45.4 13.3 11.4)"/><rect x="0.4" y="16.3" width="5.4" height="2" fill="#e292f4" transform="rotate(21.9 0.4 16.3)"/><rect x="6.3" y="10.4" width="5.1" height="2" fill="#6a2080" transform="rotate(5.8 6.3 10.4)"/><rect x="1.2" y="13" width="6.1" height="2.4" fill="#e292f4" transform="rotate(53.8 1.2 13)"/><rect x="4.9" y="11.9" width="5.4" height="1.6" fill="#6a2080" transform="rotate(-39.9 4.9 11.9)"/></pattern></defs><path d="M691.4,1019 L730.3,1019 L730,1062 L764,1082 L764,1123 L704.4,1096.8 L657.7,1126 L657.7,1081 L690.5,1062 Z" fill="url(#ib2pt)" filter="url(#ib2fz)"/>
<line x1="712" y1="1025" x2="712" y2="1100" stroke="#9a8a80" stroke-width="8" opacity="0.7"/>
<path d="M710.2,1025 L713.8,1028 L710.2,1031 L713.8,1034 L710.2,1037 L713.8,1040 L710.2,1043 L713.8,1046 L710.2,1049 L713.8,1052 L710.2,1055 L713.8,1058 L710.2,1061 L713.8,1064 L710.2,1067 L713.8,1070 L710.2,1073 L713.8,1076 L710.2,1079 L713.8,1082 L710.2,1085 L713.8,1088 L710.2,1091 L713.8,1094 L710.2,1097 L713.8,1100" fill="none" stroke="#22b040" stroke-width="2.2"/>
<ellipse cx="938.8" cy="1085" rx="54" ry="40" fill="#c0b8d8" opacity="0.5"/>
<ellipse cx="938.8" cy="1085" rx="53.7" ry="40" fill="none" stroke="#f070f0" stroke-width="2.6"/>
<ellipse cx="938.8" cy="1085" rx="47" ry="35" fill="none" stroke="#a8b8d8" stroke-width="2"/>
<ellipse cx="938.8" cy="1085" rx="41" ry="30" fill="none" stroke="#f070f0" stroke-width="1.6"/>
<ellipse cx="938.8" cy="1085" rx="35" ry="25.5" fill="none" stroke="#a8b8d8" stroke-width="1.6"/>
<ellipse cx="938.8" cy="1085" rx="29" ry="21" fill="none" stroke="#f080e8" stroke-width="1.6"/>
<ellipse cx="938.8" cy="1085" rx="23" ry="17" fill="none" stroke="#d8a090" stroke-width="1.6"/>
<path d="M886.8,1085 C886.8,1046.2 915.4,1066 938.8,1068 C962.2,1066 990.8,1046.2 990.8,1085 C990.8,1123.8 962.2,1104 938.8,1102 C915.4,1104 886.8,1123.8 886.8,1085 Z" fill="none" stroke="#2070c4" stroke-width="2.3"/>
<path d="M891,1085 C891,1049.5 917.3,1066.3 938.8,1068.3 C960.3,1066.3 986.6,1049.5 986.6,1085 C986.6,1120.5 960.3,1103.7 938.8,1101.7 C917.3,1103.7 891,1120.5 891,1085 Z" fill="none" stroke="#2070c4" stroke-width="2.3"/>
<path d="M895.2,1085 C895.2,1052.8 919.2,1066.6 938.8,1068.6 C958.4,1066.6 982.4,1052.8 982.4,1085 C982.4,1117.2 958.4,1103.4 938.8,1101.4 C919.2,1103.4 895.2,1117.2 895.2,1085 Z" fill="none" stroke="#2070c4" stroke-width="2.3"/>
<path d="M899.4,1085 C899.4,1056 921.1,1066.9 938.8,1068.9 C956.5,1066.9 978.2,1056 978.2,1085 C978.2,1114 956.5,1103.1 938.8,1101.1 C921.1,1103.1 899.4,1114 899.4,1085 Z" fill="none" stroke="#2070c4" stroke-width="2.3"/>
<path d="M903.6,1085 C903.6,1059.2 923,1067.2 938.8,1069.2 C954.6,1067.2 974,1059.2 974,1085 C974,1110.8 954.6,1102.8 938.8,1100.8 C923,1102.8 903.6,1110.8 903.6,1085 Z" fill="none" stroke="#2070c4" stroke-width="2.3"/>
<defs><radialGradient id="coball" cx="0.4" cy="0.35" r="0.7"><stop offset="0" stop-color="#ffff90"/><stop offset="0.5" stop-color="#f4e810"/><stop offset="1" stop-color="#8a7a10"/></radialGradient></defs>
<circle cx="939.5" cy="1084.4" r="11" fill="url(#coball)"/></g></svg></body></html>
